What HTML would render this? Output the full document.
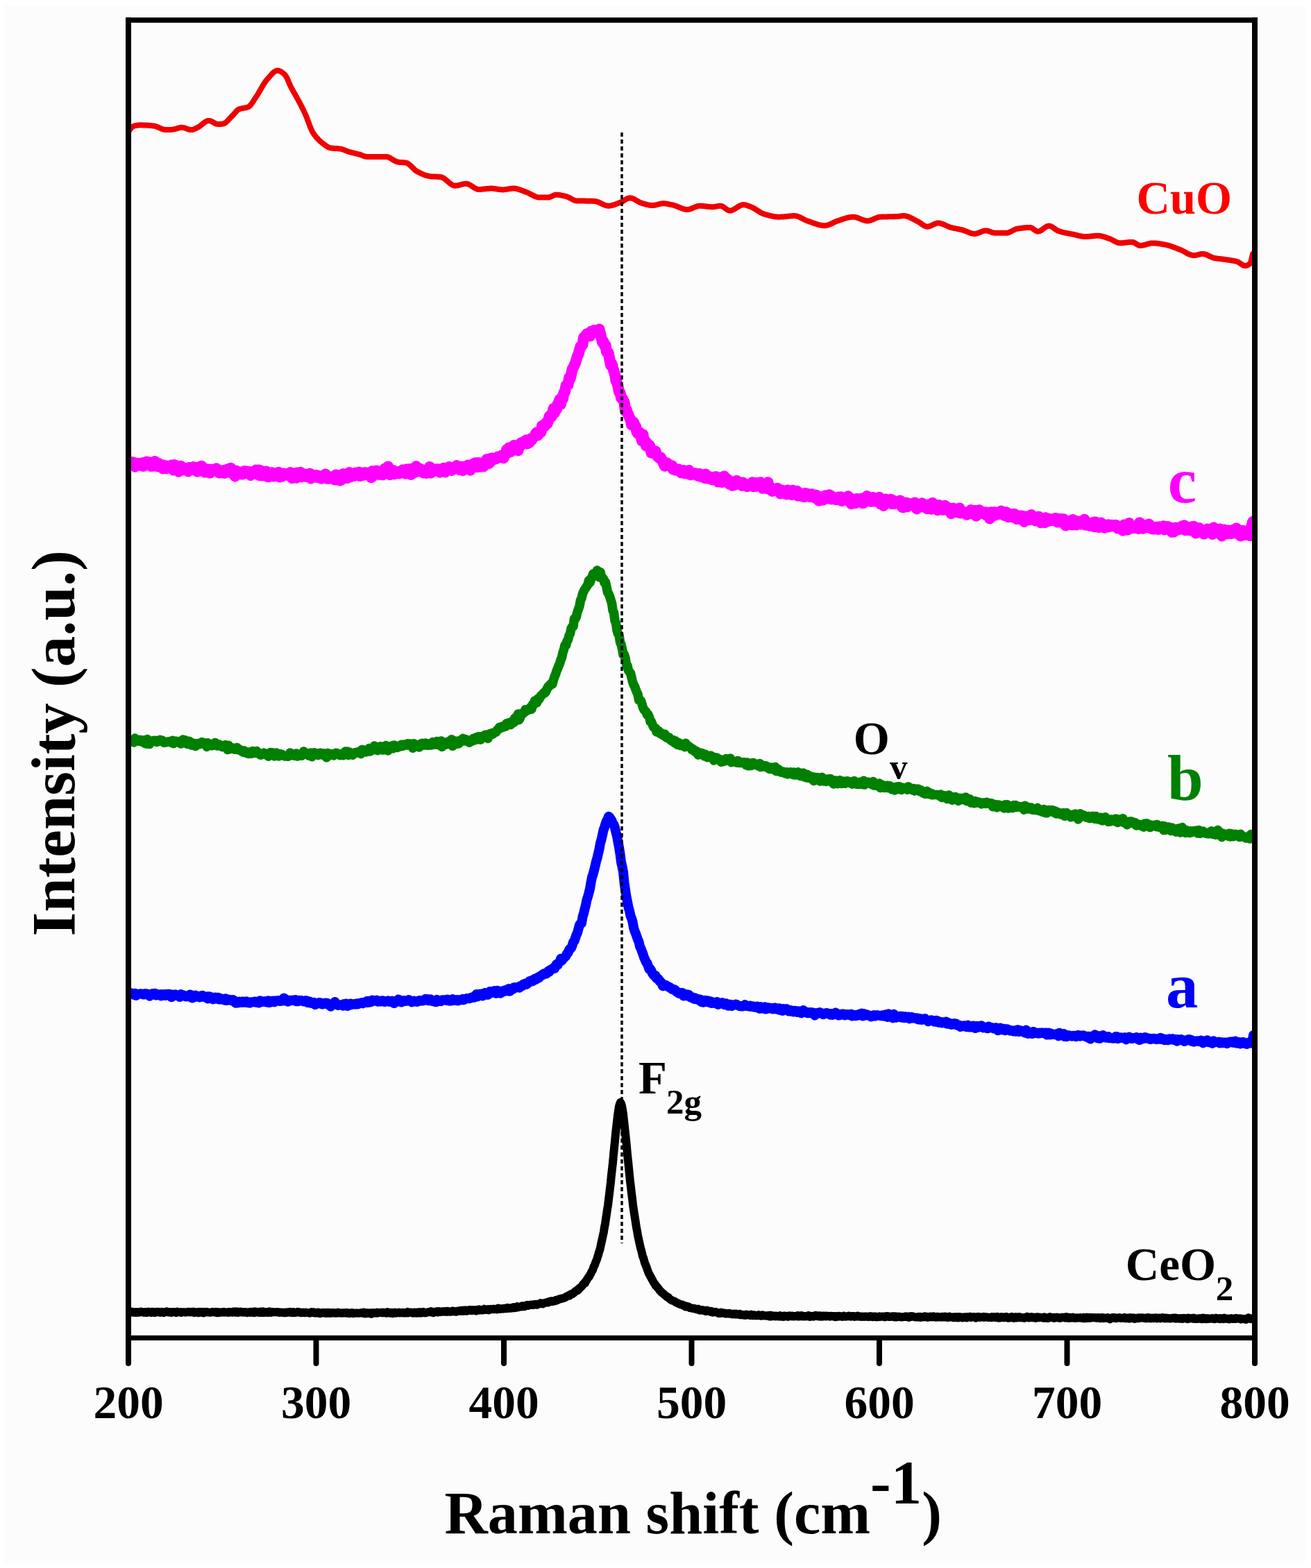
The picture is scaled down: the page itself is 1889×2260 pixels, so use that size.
<!DOCTYPE html>
<html><head><meta charset="utf-8"><title>Raman spectra</title>
<style>html,body{margin:0;padding:0;background:#fff;} body{width:1889px;height:2260px;overflow:hidden;} svg{display:block;}</style>
</head><body>
<svg width="1889" height="2260" viewBox="0 0 1889 2260">
<rect x="0" y="0" width="1889" height="2260" fill="#ffffff"/>
<rect x="6" y="8" width="1875" height="2245" fill="#fcfcfc"/>
<defs><clipPath id="pa"><rect x="186" y="30" width="1620" height="1895"/></clipPath></defs>
<g clip-path="url(#pa)">
<path d="M184.0 191.9L185.0 190.2L186.0 188.5L187.0 187.0L188.0 185.6L189.0 184.4L190.0 183.5L191.0 182.8L192.0 182.1L193.0 181.6L194.0 181.3L195.0 181.1L196.0 180.9L197.0 180.8L198.0 180.6L199.0 180.5L200.0 180.4L201.0 180.3L202.0 180.3L203.0 180.3L204.0 180.3L205.0 180.3L206.0 180.3L207.0 180.4L208.0 180.4L209.0 180.5L210.0 180.5L211.0 180.6L212.0 180.6L213.0 180.7L214.0 180.8L215.0 180.8L216.0 180.9L217.0 181.0L218.0 181.1L219.0 181.2L220.0 181.3L221.0 181.4L222.0 181.5L223.0 181.7L224.0 182.0L225.0 182.3L226.0 182.7L227.0 183.1L228.0 183.5L229.0 184.0L230.0 184.4L231.0 184.9L232.0 185.3L233.0 185.7L234.0 186.1L235.0 186.4L236.0 186.7L237.0 186.9L238.0 187.0L239.0 187.1L240.0 187.1L241.0 187.1L242.0 187.1L243.0 187.0L244.0 187.0L245.0 186.9L246.0 186.9L247.0 186.8L248.0 186.7L249.0 186.6L250.0 186.5L251.0 186.3L252.0 186.0L253.0 185.8L254.0 185.5L255.0 185.1L256.0 184.8L257.0 184.5L258.0 184.3L259.0 184.0L260.0 183.9L261.0 183.7L262.0 183.7L263.0 183.8L264.0 183.9L265.0 184.1L266.0 184.4L267.0 184.7L268.0 185.1L269.0 185.5L270.0 185.8L271.0 186.2L272.0 186.5L273.0 186.8L274.0 187.0L275.0 187.1L276.0 187.1L277.0 187.0L278.0 186.8L279.0 186.4L280.0 186.0L281.0 185.6L282.0 185.1L283.0 184.6L284.0 184.1L285.0 183.6L286.0 183.1L287.0 182.5L288.0 181.8L289.0 181.0L290.0 180.2L291.0 179.4L292.0 178.5L293.0 177.7L294.0 177.0L295.0 176.2L296.0 175.6L297.0 175.0L298.0 174.5L299.0 174.2L300.0 174.0L301.0 173.9L302.0 174.0L303.0 174.3L304.0 174.6L305.0 175.1L306.0 175.6L307.0 176.1L308.0 176.7L309.0 177.3L310.0 177.8L311.0 178.3L312.0 178.6L313.0 178.9L314.0 179.1L315.0 179.1L316.0 179.1L317.0 179.0L318.0 178.9L319.0 178.8L320.0 178.7L321.0 178.5L322.0 178.3L323.0 178.0L324.0 177.4L325.0 176.8L326.0 176.0L327.0 175.0L328.0 174.1L329.0 173.0L330.0 171.9L331.0 170.8L332.0 169.7L333.0 168.6L334.0 167.6L335.0 166.6L336.0 165.6L337.0 164.5L338.0 163.3L339.0 162.1L340.0 160.9L341.0 159.9L342.0 158.9L343.0 158.1L344.0 157.5L345.0 157.2L346.0 156.8L347.0 156.6L348.0 156.3L349.0 156.1L350.0 156.0L351.0 155.8L352.0 155.6L353.0 155.5L354.0 155.3L355.0 155.0L356.0 154.8L357.0 154.4L358.0 154.0L359.0 153.4L360.0 152.5L361.0 151.5L362.0 150.2L363.0 148.8L364.0 147.4L365.0 145.8L366.0 144.2L367.0 142.6L368.0 141.1L369.0 139.6L370.0 138.1L371.0 136.6L372.0 135.0L373.0 133.3L374.0 131.6L375.0 129.9L376.0 128.1L377.0 126.4L378.0 124.6L379.0 122.9L380.0 121.3L381.0 119.7L382.0 118.2L383.0 116.8L384.0 115.5L385.0 114.3L386.0 113.2L387.0 112.1L388.0 110.9L389.0 109.7L390.0 108.6L391.0 107.5L392.0 106.4L393.0 105.4L394.0 104.5L395.0 103.7L396.0 103.0L397.0 102.5L398.0 102.0L399.0 101.8L400.0 101.7L401.0 101.8L402.0 102.0L403.0 102.4L404.0 102.8L405.0 103.4L406.0 104.0L407.0 104.8L408.0 105.5L409.0 106.4L410.0 107.2L411.0 108.3L412.0 109.7L413.0 111.6L414.0 113.6L415.0 115.9L416.0 118.3L417.0 120.6L418.0 122.9L419.0 125.0L420.0 126.9L421.0 128.8L422.0 130.6L423.0 132.3L424.0 134.1L425.0 135.8L426.0 137.6L427.0 139.4L428.0 141.1L429.0 142.9L430.0 144.8L431.0 146.7L432.0 148.6L433.0 150.5L434.0 152.4L435.0 154.4L436.0 156.4L437.0 158.4L438.0 160.5L439.0 162.6L440.0 164.7L441.0 167.1L442.0 169.6L443.0 172.2L444.0 174.9L445.0 177.6L446.0 180.3L447.0 182.9L448.0 185.3L449.0 187.6L450.0 189.7L451.0 191.4L452.0 192.9L453.0 194.3L454.0 195.6L455.0 196.9L456.0 198.1L457.0 199.2L458.0 200.3L459.0 201.4L460.0 202.3L461.0 203.3L462.0 204.1L463.0 205.0L464.0 205.8L465.0 206.6L466.0 207.3L467.0 208.1L468.0 208.9L469.0 209.6L470.0 210.4L471.0 211.0L472.0 211.6L473.0 212.2L474.0 212.6L475.0 213.0L476.0 213.2L477.0 213.4L478.0 213.5L479.0 213.6L480.0 213.7L481.0 213.8L482.0 213.9L483.0 213.9L484.0 214.0L485.0 214.0L486.0 214.1L487.0 214.2L488.0 214.3L489.0 214.4L490.0 214.5L491.0 214.7L492.0 214.9L493.0 215.2L494.0 215.5L495.0 215.8L496.0 216.2L497.0 216.6L498.0 217.0L499.0 217.4L500.0 217.8L501.0 218.1L502.0 218.5L503.0 218.8L504.0 219.1L505.0 219.4L506.0 219.6L507.0 219.9L508.0 220.1L509.0 220.4L510.0 220.6L511.0 220.8L512.0 221.1L513.0 221.3L514.0 221.6L515.0 221.8L516.0 222.1L517.0 222.3L518.0 222.6L519.0 222.9L520.0 223.3L521.0 223.7L522.0 224.1L523.0 224.5L524.0 224.9L525.0 225.3L526.0 225.5L527.0 225.7L528.0 225.9L529.0 225.9L530.0 225.9L531.0 225.9L532.0 225.9L533.0 225.9L534.0 225.9L535.0 225.9L536.0 225.9L537.0 225.9L538.0 225.9L539.0 225.9L540.0 225.9L541.0 225.9L542.0 225.9L543.0 225.9L544.0 225.9L545.0 225.9L546.0 225.9L547.0 225.9L548.0 225.9L549.0 225.9L550.0 225.9L551.0 225.9L552.0 225.9L553.0 225.9L554.0 225.9L555.0 225.9L556.0 225.9L557.0 226.0L558.0 226.1L559.0 226.4L560.0 226.8L561.0 227.2L562.0 227.7L563.0 228.3L564.0 228.9L565.0 229.5L566.0 230.1L567.0 230.7L568.0 231.3L569.0 231.9L570.0 232.4L571.0 232.8L572.0 233.2L573.0 233.5L574.0 233.6L575.0 233.8L576.0 233.9L577.0 234.0L578.0 234.0L579.0 234.1L580.0 234.2L581.0 234.2L582.0 234.3L583.0 234.4L584.0 234.5L585.0 234.7L586.0 234.9L587.0 235.3L588.0 235.9L589.0 236.6L590.0 237.4L591.0 238.3L592.0 239.2L593.0 240.2L594.0 241.2L595.0 242.2L596.0 243.2L597.0 244.2L598.0 245.1L599.0 245.9L600.0 246.6L601.0 247.2L602.0 247.7L603.0 248.2L604.0 248.7L605.0 249.2L606.0 249.7L607.0 250.2L608.0 250.6L609.0 251.1L610.0 251.5L611.0 251.9L612.0 252.3L613.0 252.6L614.0 253.0L615.0 253.2L616.0 253.5L617.0 253.7L618.0 253.9L619.0 254.1L620.0 254.2L621.0 254.3L622.0 254.4L623.0 254.4L624.0 254.5L625.0 254.5L626.0 254.6L627.0 254.6L628.0 254.7L629.0 254.7L630.0 254.8L631.0 254.8L632.0 254.9L633.0 255.0L634.0 255.1L635.0 255.2L636.0 255.3L637.0 255.7L638.0 256.1L639.0 256.6L640.0 257.3L641.0 258.0L642.0 258.8L643.0 259.6L644.0 260.5L645.0 261.4L646.0 262.2L647.0 263.1L648.0 264.0L649.0 264.7L650.0 265.5L651.0 266.1L652.0 266.7L653.0 267.1L654.0 267.5L655.0 267.7L656.0 267.7L657.0 267.6L658.0 267.5L659.0 267.4L660.0 267.2L661.0 267.0L662.0 266.7L663.0 266.4L664.0 266.2L665.0 265.9L666.0 265.6L667.0 265.4L668.0 265.2L669.0 265.0L670.0 264.9L671.0 264.8L672.0 264.8L673.0 264.9L674.0 265.2L675.0 265.5L676.0 266.0L677.0 266.5L678.0 267.1L679.0 267.7L680.0 268.4L681.0 269.0L682.0 269.7L683.0 270.4L684.0 271.0L685.0 271.5L686.0 272.0L687.0 272.4L688.0 272.8L689.0 272.9L690.0 273.0L691.0 273.0L692.0 272.9L693.0 272.9L694.0 272.8L695.0 272.7L696.0 272.6L697.0 272.5L698.0 272.4L699.0 272.3L700.0 272.2L701.0 272.1L702.0 272.0L703.0 271.9L704.0 271.8L705.0 271.7L706.0 271.7L707.0 271.6L708.0 271.6L709.0 271.6L710.0 271.7L711.0 271.8L712.0 271.9L713.0 272.0L714.0 272.2L715.0 272.3L716.0 272.5L717.0 272.7L718.0 272.8L719.0 273.0L720.0 273.1L721.0 273.2L722.0 273.3L723.0 273.4L724.0 273.4L725.0 273.4L726.0 273.3L727.0 273.2L728.0 273.1L729.0 273.0L730.0 272.8L731.0 272.7L732.0 272.5L733.0 272.3L734.0 272.2L735.0 272.0L736.0 271.9L737.0 271.8L738.0 271.7L739.0 271.6L740.0 271.6L741.0 271.6L742.0 271.7L743.0 271.8L744.0 272.0L745.0 272.2L746.0 272.5L747.0 272.8L748.0 273.1L749.0 273.4L750.0 273.8L751.0 274.1L752.0 274.5L753.0 274.9L754.0 275.3L755.0 275.7L756.0 276.1L757.0 276.4L758.0 276.8L759.0 277.2L760.0 277.6L761.0 278.0L762.0 278.5L763.0 279.0L764.0 279.6L765.0 280.1L766.0 280.7L767.0 281.2L768.0 281.7L769.0 282.2L770.0 282.7L771.0 283.2L772.0 283.5L773.0 283.9L774.0 284.1L775.0 284.3L776.0 284.4L777.0 284.4L778.0 284.4L779.0 284.4L780.0 284.4L781.0 284.4L782.0 284.4L783.0 284.4L784.0 284.4L785.0 284.4L786.0 284.4L787.0 284.4L788.0 284.4L789.0 284.4L790.0 284.4L791.0 284.3L792.0 284.2L793.0 283.8L794.0 283.4L795.0 283.0L796.0 282.5L797.0 282.0L798.0 281.6L799.0 281.2L800.0 280.9L801.0 280.7L802.0 280.7L803.0 280.7L804.0 280.8L805.0 280.9L806.0 281.0L807.0 281.2L808.0 281.4L809.0 281.6L810.0 281.8L811.0 282.0L812.0 282.2L813.0 282.5L814.0 282.7L815.0 282.9L816.0 283.2L817.0 283.5L818.0 283.9L819.0 284.4L820.0 284.9L821.0 285.4L822.0 285.9L823.0 286.5L824.0 287.0L825.0 287.5L826.0 288.0L827.0 288.4L828.0 288.8L829.0 289.1L830.0 289.3L831.0 289.4L832.0 289.4L833.0 289.5L834.0 289.5L835.0 289.5L836.0 289.5L837.0 289.6L838.0 289.6L839.0 289.6L840.0 289.6L841.0 289.6L842.0 289.6L843.0 289.6L844.0 289.7L845.0 289.7L846.0 289.7L847.0 289.7L848.0 289.7L849.0 289.7L850.0 289.7L851.0 289.8L852.0 289.8L853.0 289.8L854.0 289.8L855.0 289.9L856.0 289.9L857.0 289.9L858.0 290.1L859.0 290.3L860.0 290.6L861.0 290.9L862.0 291.3L863.0 291.7L864.0 292.2L865.0 292.6L866.0 293.1L867.0 293.6L868.0 294.1L869.0 294.6L870.0 295.0L871.0 295.4L872.0 295.8L873.0 296.1L874.0 296.4L875.0 296.6L876.0 296.7L877.0 296.7L878.0 296.7L879.0 296.6L880.0 296.4L881.0 296.2L882.0 296.0L883.0 295.7L884.0 295.4L885.0 295.1L886.0 294.8L887.0 294.4L888.0 294.0L889.0 293.6L890.0 293.2L891.0 292.8L892.0 292.4L893.0 292.0L894.0 291.6L895.0 291.2L896.0 290.8L897.0 290.3L898.0 289.7L899.0 289.1L900.0 288.5L901.0 287.8L902.0 287.2L903.0 286.7L904.0 286.2L905.0 285.8L906.0 285.5L907.0 285.3L908.0 285.3L909.0 285.4L910.0 285.6L911.0 285.9L912.0 286.3L913.0 286.7L914.0 287.2L915.0 287.8L916.0 288.4L917.0 289.0L918.0 289.6L919.0 290.1L920.0 290.7L921.0 291.3L922.0 291.8L923.0 292.2L924.0 292.6L925.0 292.9L926.0 293.2L927.0 293.5L928.0 293.8L929.0 294.0L930.0 294.3L931.0 294.6L932.0 294.9L933.0 295.1L934.0 295.3L935.0 295.5L936.0 295.7L937.0 295.8L938.0 295.9L939.0 296.0L940.0 296.0L941.0 296.0L942.0 295.9L943.0 295.8L944.0 295.6L945.0 295.4L946.0 295.1L947.0 294.9L948.0 294.7L949.0 294.4L950.0 294.2L951.0 293.9L952.0 293.7L953.0 293.5L954.0 293.4L955.0 293.3L956.0 293.3L957.0 293.3L958.0 293.4L959.0 293.5L960.0 293.6L961.0 293.8L962.0 293.9L963.0 294.1L964.0 294.3L965.0 294.6L966.0 294.8L967.0 295.0L968.0 295.2L969.0 295.5L970.0 295.7L971.0 295.9L972.0 296.2L973.0 296.6L974.0 296.9L975.0 297.3L976.0 297.7L977.0 298.1L978.0 298.6L979.0 299.0L980.0 299.4L981.0 299.8L982.0 300.2L983.0 300.6L984.0 300.9L985.0 301.2L986.0 301.5L987.0 301.7L988.0 301.9L989.0 302.0L990.0 302.0L991.0 302.0L992.0 301.8L993.0 301.6L994.0 301.4L995.0 301.1L996.0 300.7L997.0 300.3L998.0 299.9L999.0 299.5L1000.0 299.0L1001.0 298.6L1002.0 298.2L1003.0 297.8L1004.0 297.5L1005.0 297.2L1006.0 296.9L1007.0 296.8L1008.0 296.7L1009.0 296.7L1010.0 296.7L1011.0 296.8L1012.0 296.9L1013.0 297.0L1014.0 297.1L1015.0 297.2L1016.0 297.3L1017.0 297.4L1018.0 297.6L1019.0 297.7L1020.0 297.8L1021.0 297.9L1022.0 298.0L1023.0 298.1L1024.0 298.2L1025.0 298.3L1026.0 298.3L1027.0 298.3L1028.0 298.2L1029.0 298.1L1030.0 298.0L1031.0 297.8L1032.0 297.6L1033.0 297.4L1034.0 297.2L1035.0 297.0L1036.0 296.8L1037.0 296.7L1038.0 296.7L1039.0 296.8L1040.0 297.1L1041.0 297.5L1042.0 298.1L1043.0 298.8L1044.0 299.5L1045.0 300.3L1046.0 301.0L1047.0 301.7L1048.0 302.4L1049.0 302.9L1050.0 303.3L1051.0 303.5L1052.0 303.6L1053.0 303.5L1054.0 303.3L1055.0 302.9L1056.0 302.5L1057.0 302.0L1058.0 301.5L1059.0 300.9L1060.0 300.3L1061.0 299.6L1062.0 299.0L1063.0 298.3L1064.0 297.7L1065.0 297.1L1066.0 296.6L1067.0 296.1L1068.0 295.7L1069.0 295.4L1070.0 295.2L1071.0 295.1L1072.0 295.1L1073.0 295.3L1074.0 295.4L1075.0 295.7L1076.0 296.0L1077.0 296.3L1078.0 296.7L1079.0 297.1L1080.0 297.4L1081.0 297.8L1082.0 298.2L1083.0 298.6L1084.0 299.0L1085.0 299.6L1086.0 300.1L1087.0 300.7L1088.0 301.3L1089.0 301.9L1090.0 302.5L1091.0 303.2L1092.0 303.8L1093.0 304.4L1094.0 305.1L1095.0 305.7L1096.0 306.3L1097.0 306.8L1098.0 307.3L1099.0 307.8L1100.0 308.2L1101.0 308.6L1102.0 308.9L1103.0 309.1L1104.0 309.4L1105.0 309.7L1106.0 310.0L1107.0 310.2L1108.0 310.5L1109.0 310.8L1110.0 311.0L1111.0 311.2L1112.0 311.5L1113.0 311.7L1114.0 311.9L1115.0 312.0L1116.0 312.2L1117.0 312.3L1118.0 312.5L1119.0 312.6L1120.0 312.6L1121.0 312.7L1122.0 312.7L1123.0 312.7L1124.0 312.7L1125.0 312.6L1126.0 312.6L1127.0 312.5L1128.0 312.4L1129.0 312.4L1130.0 312.3L1131.0 312.2L1132.0 312.1L1133.0 312.0L1134.0 311.9L1135.0 311.8L1136.0 311.7L1137.0 311.6L1138.0 311.5L1139.0 311.4L1140.0 311.3L1141.0 311.2L1142.0 311.2L1143.0 311.1L1144.0 311.1L1145.0 311.1L1146.0 311.1L1147.0 311.3L1148.0 311.5L1149.0 311.7L1150.0 312.1L1151.0 312.5L1152.0 312.9L1153.0 313.4L1154.0 313.9L1155.0 314.4L1156.0 314.9L1157.0 315.5L1158.0 316.0L1159.0 316.5L1160.0 317.0L1161.0 317.5L1162.0 317.9L1163.0 318.3L1164.0 318.6L1165.0 318.9L1166.0 319.3L1167.0 319.6L1168.0 320.0L1169.0 320.4L1170.0 320.7L1171.0 321.1L1172.0 321.5L1173.0 321.8L1174.0 322.2L1175.0 322.5L1176.0 322.9L1177.0 323.2L1178.0 323.5L1179.0 323.8L1180.0 324.0L1181.0 324.3L1182.0 324.5L1183.0 324.7L1184.0 324.9L1185.0 325.0L1186.0 325.1L1187.0 325.2L1188.0 325.2L1189.0 325.2L1190.0 325.1L1191.0 324.9L1192.0 324.7L1193.0 324.4L1194.0 324.0L1195.0 323.6L1196.0 323.2L1197.0 322.8L1198.0 322.3L1199.0 321.8L1200.0 321.3L1201.0 320.8L1202.0 320.3L1203.0 319.8L1204.0 319.4L1205.0 319.0L1206.0 318.6L1207.0 318.3L1208.0 318.0L1209.0 317.7L1210.0 317.3L1211.0 317.0L1212.0 316.7L1213.0 316.3L1214.0 316.0L1215.0 315.7L1216.0 315.3L1217.0 315.0L1218.0 314.7L1219.0 314.4L1220.0 314.1L1221.0 313.9L1222.0 313.6L1223.0 313.4L1224.0 313.2L1225.0 313.1L1226.0 312.9L1227.0 312.8L1228.0 312.7L1229.0 312.7L1230.0 312.7L1231.0 312.8L1232.0 312.9L1233.0 313.1L1234.0 313.4L1235.0 313.7L1236.0 314.1L1237.0 314.4L1238.0 314.8L1239.0 315.2L1240.0 315.7L1241.0 316.1L1242.0 316.5L1243.0 316.9L1244.0 317.2L1245.0 317.5L1246.0 317.8L1247.0 318.1L1248.0 318.2L1249.0 318.4L1250.0 318.4L1251.0 318.4L1252.0 318.2L1253.0 318.0L1254.0 317.7L1255.0 317.4L1256.0 317.0L1257.0 316.6L1258.0 316.2L1259.0 315.7L1260.0 315.3L1261.0 314.8L1262.0 314.4L1263.0 314.0L1264.0 313.6L1265.0 313.3L1266.0 313.0L1267.0 312.8L1268.0 312.7L1269.0 312.7L1270.0 312.6L1271.0 312.6L1272.0 312.5L1273.0 312.5L1274.0 312.5L1275.0 312.4L1276.0 312.4L1277.0 312.4L1278.0 312.4L1279.0 312.4L1280.0 312.3L1281.0 312.3L1282.0 312.3L1283.0 312.3L1284.0 312.3L1285.0 312.3L1286.0 312.2L1287.0 312.2L1288.0 312.2L1289.0 312.2L1290.0 312.1L1291.0 312.1L1292.0 312.1L1293.0 312.0L1294.0 312.0L1295.0 311.9L1296.0 311.7L1297.0 311.6L1298.0 311.5L1299.0 311.3L1300.0 311.2L1301.0 311.1L1302.0 311.1L1303.0 311.1L1304.0 311.2L1305.0 311.3L1306.0 311.5L1307.0 311.8L1308.0 312.1L1309.0 312.5L1310.0 312.9L1311.0 313.3L1312.0 313.8L1313.0 314.3L1314.0 314.8L1315.0 315.3L1316.0 315.8L1317.0 316.4L1318.0 316.9L1319.0 317.5L1320.0 318.0L1321.0 318.6L1322.0 319.1L1323.0 319.5L1324.0 320.1L1325.0 320.7L1326.0 321.4L1327.0 322.1L1328.0 322.8L1329.0 323.6L1330.0 324.3L1331.0 324.9L1332.0 325.5L1333.0 326.0L1334.0 326.4L1335.0 326.6L1336.0 326.7L1337.0 326.6L1338.0 326.5L1339.0 326.2L1340.0 325.9L1341.0 325.5L1342.0 325.0L1343.0 324.6L1344.0 324.1L1345.0 323.6L1346.0 323.1L1347.0 322.7L1348.0 322.3L1349.0 322.0L1350.0 321.7L1351.0 321.5L1352.0 321.5L1353.0 321.6L1354.0 321.7L1355.0 321.9L1356.0 322.1L1357.0 322.5L1358.0 322.8L1359.0 323.2L1360.0 323.6L1361.0 324.1L1362.0 324.6L1363.0 325.0L1364.0 325.5L1365.0 326.0L1366.0 326.4L1367.0 326.8L1368.0 327.2L1369.0 327.6L1370.0 327.9L1371.0 328.1L1372.0 328.4L1373.0 328.6L1374.0 328.8L1375.0 329.0L1376.0 329.2L1377.0 329.4L1378.0 329.6L1379.0 329.8L1380.0 330.0L1381.0 330.2L1382.0 330.4L1383.0 330.6L1384.0 330.8L1385.0 331.0L1386.0 331.3L1387.0 331.5L1388.0 331.9L1389.0 332.2L1390.0 332.6L1391.0 333.0L1392.0 333.4L1393.0 333.8L1394.0 334.2L1395.0 334.6L1396.0 335.0L1397.0 335.4L1398.0 335.8L1399.0 336.1L1400.0 336.4L1401.0 336.6L1402.0 336.8L1403.0 336.9L1404.0 337.0L1405.0 337.0L1406.0 336.9L1407.0 336.7L1408.0 336.4L1409.0 336.0L1410.0 335.7L1411.0 335.3L1412.0 334.8L1413.0 334.4L1414.0 334.0L1415.0 333.6L1416.0 333.2L1417.0 332.9L1418.0 332.7L1419.0 332.5L1420.0 332.4L1421.0 332.4L1422.0 332.5L1423.0 332.7L1424.0 333.0L1425.0 333.3L1426.0 333.7L1427.0 334.0L1428.0 334.4L1429.0 334.8L1430.0 335.1L1431.0 335.4L1432.0 335.6L1433.0 335.7L1434.0 335.8L1435.0 335.8L1436.0 335.8L1437.0 335.8L1438.0 335.8L1439.0 335.8L1440.0 335.8L1441.0 335.8L1442.0 335.8L1443.0 335.8L1444.0 335.8L1445.0 335.8L1446.0 335.8L1447.0 335.8L1448.0 335.8L1449.0 335.8L1450.0 335.8L1451.0 335.7L1452.0 335.6L1453.0 335.3L1454.0 334.9L1455.0 334.5L1456.0 334.0L1457.0 333.5L1458.0 333.0L1459.0 332.5L1460.0 332.0L1461.0 331.4L1462.0 331.0L1463.0 330.5L1464.0 330.2L1465.0 329.9L1466.0 329.7L1467.0 329.5L1468.0 329.4L1469.0 329.2L1470.0 329.1L1471.0 328.9L1472.0 328.8L1473.0 328.7L1474.0 328.6L1475.0 328.4L1476.0 328.3L1477.0 328.2L1478.0 328.2L1479.0 328.1L1480.0 328.0L1481.0 328.0L1482.0 327.9L1483.0 327.9L1484.0 327.9L1485.0 328.0L1486.0 328.3L1487.0 328.8L1488.0 329.4L1489.0 330.2L1490.0 330.9L1491.0 331.6L1492.0 332.3L1493.0 332.9L1494.0 333.3L1495.0 333.6L1496.0 333.6L1497.0 333.4L1498.0 333.1L1499.0 332.6L1500.0 332.1L1501.0 331.4L1502.0 330.7L1503.0 330.0L1504.0 329.2L1505.0 328.5L1506.0 327.8L1507.0 327.1L1508.0 326.6L1509.0 326.1L1510.0 325.8L1511.0 325.6L1512.0 325.6L1513.0 325.8L1514.0 326.1L1515.0 326.6L1516.0 327.1L1517.0 327.8L1518.0 328.5L1519.0 329.2L1520.0 329.9L1521.0 330.6L1522.0 331.3L1523.0 331.9L1524.0 332.5L1525.0 332.9L1526.0 333.2L1527.0 333.5L1528.0 333.8L1529.0 334.1L1530.0 334.3L1531.0 334.6L1532.0 334.9L1533.0 335.1L1534.0 335.3L1535.0 335.5L1536.0 335.8L1537.0 336.0L1538.0 336.2L1539.0 336.4L1540.0 336.6L1541.0 336.8L1542.0 336.9L1543.0 337.1L1544.0 337.3L1545.0 337.5L1546.0 337.7L1547.0 337.9L1548.0 338.1L1549.0 338.3L1550.0 338.6L1551.0 338.8L1552.0 339.1L1553.0 339.3L1554.0 339.6L1555.0 339.8L1556.0 340.0L1557.0 340.3L1558.0 340.5L1559.0 340.6L1560.0 340.8L1561.0 340.9L1562.0 341.0L1563.0 341.1L1564.0 341.1L1565.0 341.1L1566.0 341.0L1567.0 341.0L1568.0 340.9L1569.0 340.8L1570.0 340.7L1571.0 340.6L1572.0 340.5L1573.0 340.4L1574.0 340.3L1575.0 340.2L1576.0 340.1L1577.0 340.0L1578.0 339.9L1579.0 339.8L1580.0 339.8L1581.0 339.7L1582.0 339.7L1583.0 339.7L1584.0 339.8L1585.0 339.9L1586.0 340.1L1587.0 340.3L1588.0 340.5L1589.0 340.8L1590.0 341.1L1591.0 341.4L1592.0 341.7L1593.0 342.1L1594.0 342.4L1595.0 342.8L1596.0 343.1L1597.0 343.4L1598.0 343.8L1599.0 344.1L1600.0 344.5L1601.0 345.0L1602.0 345.5L1603.0 346.0L1604.0 346.6L1605.0 347.1L1606.0 347.6L1607.0 348.2L1608.0 348.7L1609.0 349.1L1610.0 349.5L1611.0 349.8L1612.0 350.1L1613.0 350.2L1614.0 350.3L1615.0 350.3L1616.0 350.2L1617.0 350.2L1618.0 350.1L1619.0 350.0L1620.0 349.9L1621.0 349.8L1622.0 349.7L1623.0 349.5L1624.0 349.4L1625.0 349.3L1626.0 349.2L1627.0 349.1L1628.0 349.0L1629.0 349.0L1630.0 348.9L1631.0 348.9L1632.0 349.0L1633.0 349.2L1634.0 349.7L1635.0 350.2L1636.0 350.8L1637.0 351.4L1638.0 352.1L1639.0 352.7L1640.0 353.2L1641.0 353.6L1642.0 353.9L1643.0 354.0L1644.0 354.0L1645.0 353.9L1646.0 353.7L1647.0 353.5L1648.0 353.3L1649.0 353.0L1650.0 352.8L1651.0 352.5L1652.0 352.2L1653.0 351.9L1654.0 351.6L1655.0 351.3L1656.0 351.0L1657.0 350.8L1658.0 350.6L1659.0 350.5L1660.0 350.4L1661.0 350.4L1662.0 350.4L1663.0 350.5L1664.0 350.5L1665.0 350.6L1666.0 350.7L1667.0 350.8L1668.0 350.9L1669.0 351.0L1670.0 351.2L1671.0 351.3L1672.0 351.5L1673.0 351.6L1674.0 351.8L1675.0 352.0L1676.0 352.2L1677.0 352.3L1678.0 352.5L1679.0 352.7L1680.0 352.9L1681.0 353.1L1682.0 353.4L1683.0 353.6L1684.0 353.9L1685.0 354.2L1686.0 354.5L1687.0 354.8L1688.0 355.2L1689.0 355.5L1690.0 355.9L1691.0 356.3L1692.0 356.7L1693.0 357.0L1694.0 357.4L1695.0 357.8L1696.0 358.2L1697.0 358.6L1698.0 359.0L1699.0 359.4L1700.0 359.7L1701.0 360.1L1702.0 360.5L1703.0 361.0L1704.0 361.5L1705.0 362.0L1706.0 362.5L1707.0 363.1L1708.0 363.7L1709.0 364.2L1710.0 364.8L1711.0 365.3L1712.0 365.8L1713.0 366.3L1714.0 366.7L1715.0 367.1L1716.0 367.4L1717.0 367.7L1718.0 367.9L1719.0 368.1L1720.0 368.1L1721.0 368.1L1722.0 368.0L1723.0 367.8L1724.0 367.6L1725.0 367.4L1726.0 367.2L1727.0 366.9L1728.0 366.7L1729.0 366.4L1730.0 366.2L1731.0 366.1L1732.0 366.0L1733.0 365.9L1734.0 365.9L1735.0 366.1L1736.0 366.3L1737.0 366.6L1738.0 366.9L1739.0 367.3L1740.0 367.8L1741.0 368.3L1742.0 368.8L1743.0 369.3L1744.0 369.8L1745.0 370.3L1746.0 370.7L1747.0 371.1L1748.0 371.5L1749.0 371.8L1750.0 372.0L1751.0 372.2L1752.0 372.3L1753.0 372.5L1754.0 372.6L1755.0 372.8L1756.0 372.9L1757.0 373.0L1758.0 373.1L1759.0 373.2L1760.0 373.3L1761.0 373.5L1762.0 373.6L1763.0 373.7L1764.0 373.8L1765.0 374.0L1766.0 374.1L1767.0 374.3L1768.0 374.4L1769.0 374.6L1770.0 374.7L1771.0 374.8L1772.0 375.0L1773.0 375.1L1774.0 375.3L1775.0 375.5L1776.0 375.6L1777.0 375.8L1778.0 376.0L1779.0 376.2L1780.0 376.5L1781.0 376.7L1782.0 376.9L1783.0 377.3L1784.0 377.7L1785.0 378.3L1786.0 378.9L1787.0 379.6L1788.0 380.3L1789.0 381.0L1790.0 381.6L1791.0 382.2L1792.0 382.6L1793.0 382.9L1794.0 383.0L1795.0 382.9L1796.0 382.8L1797.0 382.4L1798.0 382.0L1799.0 381.4L1800.0 380.8L1801.0 380.0L1802.0 378.2L1803.0 374.9L1804.0 370.6L1805.0 366.0" fill="none" stroke="#f00000" stroke-width="8" stroke-linejoin="round" stroke-linecap="round"/>
<path d="M184.0 668.2L185.5 669.1L187.0 667.7L188.5 666.2L190.0 667.5L191.5 666.2L193.0 669.1L194.5 672.6L196.0 667.9L197.5 667.7L199.0 670.8L200.5 670.5L202.0 670.0L203.5 667.5L205.0 669.9L206.5 671.9L208.0 666.8L209.5 669.2L211.0 665.6L212.5 667.3L214.0 666.0L215.5 670.3L217.0 667.8L218.5 671.9L220.0 671.7L221.5 671.0L223.0 665.0L224.5 670.3L226.0 671.7L227.5 672.3L229.0 668.1L230.5 671.0L232.0 669.8L233.5 670.4L235.0 675.4L236.5 670.7L238.0 672.8L239.5 675.3L241.0 671.7L242.5 673.0L244.0 673.7L245.5 673.7L247.0 670.5L248.5 674.0L250.0 677.5L251.5 670.1L253.0 676.5L254.5 674.7L256.0 672.8L257.5 679.8L259.0 676.7L260.5 671.7L262.0 675.2L263.5 676.6L265.0 674.7L266.5 677.1L268.0 675.3L269.5 677.3L271.0 679.4L272.5 674.0L274.0 676.4L275.5 674.8L277.0 676.4L278.5 673.1L280.0 674.8L281.5 675.9L283.0 678.8L284.5 679.6L286.0 673.2L287.5 674.7L289.0 678.5L290.5 671.8L292.0 675.8L293.5 676.9L295.0 680.5L296.5 679.1L298.0 676.5L299.5 676.5L301.0 676.9L302.5 681.6L304.0 676.6L305.5 677.1L307.0 678.9L308.5 677.7L310.0 677.6L311.5 675.3L313.0 678.3L314.5 677.3L316.0 681.6L317.5 680.3L319.0 678.7L320.5 680.6L322.0 678.1L323.5 681.9L325.0 679.3L326.5 680.9L328.0 676.2L329.5 680.6L331.0 675.4L332.5 674.7L334.0 679.3L335.5 677.9L337.0 680.8L338.5 686.4L340.0 678.5L341.5 679.2L343.0 681.5L344.5 682.4L346.0 680.8L347.5 680.9L349.0 683.4L350.5 683.0L352.0 679.1L353.5 681.7L355.0 682.1L356.5 679.4L358.0 682.9L359.5 680.1L361.0 685.0L362.5 683.0L364.0 682.8L365.5 681.1L367.0 682.4L368.5 677.6L370.0 679.9L371.5 683.9L373.0 677.5L374.5 685.3L376.0 678.6L377.5 685.2L379.0 681.1L380.5 685.3L382.0 683.7L383.5 679.4L385.0 686.7L386.5 687.3L388.0 683.4L389.5 682.9L391.0 683.3L392.5 681.2L394.0 686.6L395.5 682.4L397.0 683.8L398.5 681.9L400.0 682.4L401.5 680.7L403.0 687.4L404.5 683.8L406.0 686.7L407.5 684.3L409.0 682.5L410.5 683.6L412.0 683.0L413.5 684.5L415.0 683.6L416.5 683.9L418.0 681.1L419.5 682.7L421.0 689.1L422.5 683.2L424.0 682.2L425.5 685.9L427.0 688.7L428.5 681.4L430.0 684.7L431.5 683.6L433.0 680.8L434.5 687.3L436.0 685.4L437.5 685.7L439.0 683.6L440.5 686.8L442.0 684.3L443.5 685.4L445.0 683.0L446.5 682.7L448.0 689.4L449.5 684.7L451.0 686.9L452.5 686.1L454.0 685.1L455.5 685.0L457.0 688.0L458.5 685.7L460.0 686.1L461.5 686.7L463.0 689.8L464.5 688.6L466.0 687.9L467.5 685.5L469.0 683.5L470.5 689.6L472.0 689.7L473.5 686.9L475.0 688.8L476.5 689.5L478.0 689.7L479.5 689.9L481.0 686.4L482.5 691.6L484.0 684.4L485.5 689.9L487.0 689.0L488.5 690.0L490.0 692.6L491.5 691.5L493.0 684.6L494.5 683.1L496.0 689.5L497.5 684.6L499.0 687.0L500.5 689.1L502.0 682.5L503.5 681.1L505.0 687.1L506.5 686.3L508.0 685.4L509.5 685.9L511.0 683.4L512.5 681.5L514.0 684.8L515.5 682.5L517.0 680.6L518.5 686.0L520.0 684.3L521.5 685.4L523.0 681.6L524.5 682.3L526.0 681.3L527.5 681.4L529.0 684.1L530.5 681.4L532.0 684.2L533.5 684.0L535.0 688.2L536.5 679.1L538.0 684.9L539.5 682.2L541.0 682.2L542.5 678.4L544.0 680.8L545.5 683.8L547.0 681.5L548.5 681.8L550.0 680.7L551.5 684.3L553.0 681.1L554.5 675.4L556.0 679.2L557.5 675.8L559.0 672.4L560.5 679.4L562.0 684.1L563.5 680.7L565.0 677.5L566.5 678.0L568.0 683.3L569.5 680.7L571.0 680.4L572.5 680.1L574.0 680.3L575.5 682.2L577.0 681.5L578.5 680.5L580.0 677.2L581.5 681.2L583.0 678.0L584.5 682.6L586.0 676.4L587.5 679.3L589.0 679.5L590.5 676.0L592.0 683.9L593.5 683.1L595.0 678.1L596.5 681.2L598.0 680.1L599.5 672.2L601.0 679.6L602.5 678.6L604.0 678.9L605.5 675.8L607.0 677.8L608.5 677.9L610.0 681.4L611.5 679.1L613.0 678.1L614.5 681.9L616.0 676.4L617.5 676.7L619.0 672.9L620.5 681.6L622.0 679.9L623.5 679.7L625.0 679.0L626.5 677.4L628.0 677.6L629.5 676.3L631.0 676.3L632.5 676.9L634.0 680.6L635.5 678.0L637.0 676.3L638.5 674.9L640.0 674.7L641.5 680.4L643.0 677.5L644.5 676.3L646.0 675.1L647.5 673.0L649.0 675.7L650.5 678.0L652.0 674.6L653.5 675.0L655.0 674.9L656.5 675.6L658.0 671.1L659.5 674.5L661.0 672.7L662.5 677.1L664.0 672.6L665.5 676.0L667.0 678.2L668.5 673.2L670.0 672.2L671.5 674.0L673.0 673.3L674.5 670.4L676.0 673.9L677.5 677.6L679.0 671.3L680.5 671.1L682.0 668.6L683.5 671.8L685.0 667.3L686.5 667.3L688.0 673.1L689.5 667.1L691.0 671.8L692.5 672.6L694.0 668.8L695.5 669.1L697.0 672.2L698.5 666.0L700.0 664.4L701.5 661.9L703.0 664.9L704.5 668.1L706.0 666.2L707.5 660.7L709.0 660.4L710.5 660.7L712.0 662.2L713.5 660.4L715.0 660.9L716.5 660.5L718.0 658.3L719.5 658.3L721.0 658.3L722.5 656.8L724.0 657.5L725.5 660.2L727.0 656.0L728.5 653.7L730.0 648.2L731.5 652.6L733.0 645.6L734.5 646.0L736.0 651.0L737.5 649.8L739.0 646.7L740.5 641.9L742.0 644.6L743.5 643.1L745.0 645.8L746.5 649.3L748.0 643.3L749.5 640.0L751.0 638.2L752.5 640.3L754.0 639.2L755.5 635.9L757.0 638.4L758.5 634.3L760.0 639.4L761.5 638.4L763.0 637.6L764.5 632.6L766.0 634.3L767.5 631.6L769.0 629.8L770.5 628.8L772.0 624.9L773.5 623.1L775.0 627.4L776.5 623.1L778.0 622.5L779.5 622.7L781.0 613.8L782.5 614.4L784.0 614.9L785.5 613.4L787.0 609.2L788.5 610.7L790.0 606.3L791.5 600.3L793.0 598.7L794.5 600.8L796.0 597.5L797.5 588.9L799.0 594.9L800.5 590.4L802.0 589.7L803.5 582.7L805.0 580.4L806.5 575.7L808.0 582.7L809.5 573.0L811.0 574.8L812.5 566.0L814.0 564.7L815.5 556.1L817.0 555.4L818.5 554.7L820.0 544.5L821.5 546.2L823.0 540.0L824.5 532.4L826.0 529.9L827.5 526.2L829.0 523.4L830.5 518.2L832.0 513.4L833.5 510.6L835.0 504.4L836.5 499.4L838.0 498.6L839.5 496.7L841.0 486.3L842.5 487.0L844.0 483.4L845.5 481.2L847.0 484.7L848.5 480.1L850.0 484.5L851.5 477.8L853.0 480.2L854.5 478.0L856.0 476.0L857.5 479.1L859.0 476.9L860.5 478.7L862.0 476.9L863.5 474.5L865.0 481.0L866.5 486.9L868.0 493.4L869.5 492.2L871.0 498.1L872.5 497.3L874.0 507.4L875.5 507.2L877.0 509.9L878.5 519.1L880.0 526.7L881.5 524.2L883.0 529.7L884.5 535.2L886.0 539.1L887.5 548.7L889.0 551.4L890.5 556.9L892.0 565.1L893.5 566.1L895.0 573.5L896.5 573.9L898.0 577.2L899.5 579.3L901.0 592.5L902.5 590.3L904.0 595.2L905.5 597.9L907.0 601.7L908.5 604.6L910.0 612.4L911.5 607.6L913.0 608.9L914.5 612.9L916.0 614.6L917.5 622.4L919.0 624.9L920.5 622.6L922.0 623.7L923.5 628.6L925.0 635.4L926.5 626.5L928.0 637.3L929.5 635.1L931.0 642.6L932.5 639.0L934.0 642.9L935.5 641.5L937.0 644.6L938.5 652.5L940.0 652.7L941.5 651.1L943.0 651.4L944.5 650.3L946.0 655.6L947.5 658.0L949.0 659.2L950.5 660.5L952.0 659.2L953.5 663.2L955.0 664.5L956.5 669.1L958.0 671.8L959.5 667.7L961.0 667.2L962.5 670.0L964.0 669.6L965.5 670.2L967.0 673.0L968.5 671.4L970.0 676.6L971.5 675.7L973.0 677.5L974.5 677.2L976.0 676.5L977.5 676.6L979.0 679.1L980.5 678.9L982.0 681.4L983.5 681.2L985.0 678.1L986.5 682.2L988.0 678.8L989.5 681.1L991.0 682.2L992.5 677.9L994.0 683.8L995.5 684.2L997.0 683.7L998.5 683.2L1000.0 683.6L1001.5 682.3L1003.0 684.4L1004.5 683.9L1006.0 685.9L1007.5 682.8L1009.0 686.8L1010.5 686.9L1012.0 686.5L1013.5 686.0L1015.0 688.9L1016.5 683.4L1018.0 689.3L1019.5 689.0L1021.0 689.4L1022.5 690.0L1024.0 687.6L1025.5 688.9L1027.0 691.5L1028.5 691.3L1030.0 691.0L1031.5 686.9L1033.0 692.5L1034.5 694.4L1036.0 694.3L1037.5 692.6L1039.0 688.2L1040.5 695.0L1042.0 692.4L1043.5 686.5L1045.0 694.3L1046.5 689.7L1048.0 690.5L1049.5 692.5L1051.0 697.7L1052.5 693.7L1054.0 695.6L1055.5 699.7L1057.0 699.6L1058.5 695.4L1060.0 695.3L1061.5 692.9L1063.0 694.6L1064.5 697.8L1066.0 698.0L1067.5 697.5L1069.0 700.0L1070.5 695.6L1072.0 697.7L1073.5 700.0L1075.0 699.8L1076.5 701.3L1078.0 699.8L1079.5 698.2L1081.0 700.1L1082.5 696.8L1084.0 695.3L1085.5 701.3L1087.0 699.8L1088.5 701.0L1090.0 695.9L1091.5 699.6L1093.0 699.1L1094.5 698.6L1096.0 695.2L1097.5 700.4L1099.0 703.8L1100.5 702.6L1102.0 700.3L1103.5 702.0L1105.0 704.2L1106.5 695.3L1108.0 702.4L1109.5 704.4L1111.0 705.0L1112.5 707.9L1114.0 706.7L1115.5 704.9L1117.0 705.2L1118.5 706.8L1120.0 703.7L1121.5 705.4L1123.0 708.3L1124.5 711.4L1126.0 706.3L1127.5 707.0L1129.0 708.0L1130.5 711.4L1132.0 708.2L1133.5 712.5L1135.0 706.5L1136.5 708.9L1138.0 709.2L1139.5 712.1L1141.0 713.1L1142.5 706.8L1144.0 708.6L1145.5 712.1L1147.0 709.8L1148.5 707.8L1150.0 714.7L1151.5 713.5L1153.0 713.7L1154.5 711.4L1156.0 715.5L1157.5 712.4L1159.0 716.1L1160.5 711.1L1162.0 711.4L1163.5 714.4L1165.0 712.2L1166.5 716.0L1168.0 715.1L1169.5 712.2L1171.0 714.9L1172.5 714.0L1174.0 717.5L1175.5 713.6L1177.0 714.3L1178.5 718.8L1180.0 721.6L1181.5 721.1L1183.0 716.3L1184.5 716.9L1186.0 720.5L1187.5 716.3L1189.0 714.3L1190.5 717.3L1192.0 718.3L1193.5 715.2L1195.0 713.2L1196.5 713.9L1198.0 719.6L1199.5 716.0L1201.0 717.8L1202.5 718.8L1204.0 720.0L1205.5 717.7L1207.0 720.0L1208.5 716.5L1210.0 718.0L1211.5 716.3L1213.0 722.0L1214.5 719.1L1216.0 717.3L1217.5 718.4L1219.0 718.8L1220.5 721.2L1222.0 715.3L1223.5 716.8L1225.0 718.6L1226.5 726.2L1228.0 722.1L1229.5 719.4L1231.0 721.5L1232.5 725.1L1234.0 719.2L1235.5 718.9L1237.0 723.0L1238.5 721.2L1240.0 721.7L1241.5 718.7L1243.0 725.1L1244.5 724.6L1246.0 721.7L1247.5 722.1L1249.0 715.1L1250.5 722.2L1252.0 720.1L1253.5 721.9L1255.0 722.7L1256.5 720.3L1258.0 717.0L1259.5 722.5L1261.0 719.9L1262.5 721.2L1264.0 720.7L1265.5 721.6L1267.0 716.8L1268.5 726.2L1270.0 723.9L1271.5 726.4L1273.0 728.9L1274.5 724.0L1276.0 719.4L1277.5 722.0L1279.0 721.4L1280.5 723.4L1282.0 725.0L1283.5 719.7L1285.0 726.0L1286.5 721.2L1288.0 726.1L1289.5 725.1L1291.0 724.7L1292.5 725.4L1294.0 724.3L1295.5 724.2L1297.0 721.5L1298.5 725.9L1300.0 730.8L1301.5 731.3L1303.0 729.7L1304.5 728.1L1306.0 724.6L1307.5 730.2L1309.0 726.4L1310.5 726.5L1312.0 726.0L1313.5 727.1L1315.0 725.9L1316.5 726.9L1318.0 724.4L1319.5 726.4L1321.0 733.4L1322.5 727.5L1324.0 727.2L1325.5 729.3L1327.0 729.9L1328.5 725.3L1330.0 727.8L1331.5 730.9L1333.0 729.4L1334.5 729.2L1336.0 733.1L1337.5 727.5L1339.0 729.6L1340.5 728.3L1342.0 733.7L1343.5 725.0L1345.0 728.6L1346.5 729.3L1348.0 732.7L1349.5 732.9L1351.0 735.3L1352.5 727.9L1354.0 734.3L1355.5 731.9L1357.0 731.3L1358.5 734.8L1360.0 731.4L1361.5 728.7L1363.0 733.5L1364.5 730.9L1366.0 733.4L1367.5 736.4L1369.0 736.6L1370.5 740.2L1372.0 735.8L1373.5 732.5L1375.0 734.8L1376.5 734.6L1378.0 733.9L1379.5 738.4L1381.0 735.8L1382.5 732.4L1384.0 739.5L1385.5 737.6L1387.0 738.9L1388.5 738.4L1390.0 739.9L1391.5 738.5L1393.0 741.7L1394.5 739.7L1396.0 739.7L1397.5 739.9L1399.0 735.1L1400.5 738.6L1402.0 738.4L1403.5 739.8L1405.0 735.8L1406.5 743.7L1408.0 739.8L1409.5 736.4L1411.0 735.2L1412.5 739.0L1414.0 739.6L1415.5 738.1L1417.0 740.3L1418.5 738.5L1420.0 741.7L1421.5 738.5L1423.0 740.4L1424.5 743.1L1426.0 747.4L1427.5 738.2L1429.0 739.7L1430.5 738.8L1432.0 743.2L1433.5 738.3L1435.0 740.1L1436.5 741.4L1438.0 739.1L1439.5 739.3L1441.0 740.7L1442.5 736.6L1444.0 738.4L1445.5 741.3L1447.0 742.9L1448.5 742.2L1450.0 738.2L1451.5 741.7L1453.0 745.2L1454.5 744.7L1456.0 743.2L1457.5 741.2L1459.0 745.3L1460.5 742.3L1462.0 741.0L1463.5 742.1L1465.0 748.1L1466.5 745.1L1468.0 747.7L1469.5 743.5L1471.0 747.4L1472.5 743.5L1474.0 744.9L1475.5 751.9L1477.0 747.6L1478.5 744.4L1480.0 745.7L1481.5 746.9L1483.0 749.3L1484.5 745.1L1486.0 742.0L1487.5 745.9L1489.0 746.9L1490.5 747.2L1492.0 750.5L1493.5 748.1L1495.0 749.5L1496.5 744.7L1498.0 750.0L1499.5 753.3L1501.0 750.0L1502.5 748.8L1504.0 748.7L1505.5 753.1L1507.0 746.2L1508.5 748.4L1510.0 750.1L1511.5 751.0L1513.0 748.0L1514.5 750.1L1516.0 748.7L1517.5 749.9L1519.0 749.4L1520.5 746.9L1522.0 750.0L1523.5 752.5L1525.0 747.8L1526.5 749.9L1528.0 752.4L1529.5 748.0L1531.0 751.4L1532.5 748.3L1534.0 754.2L1535.5 757.4L1537.0 756.8L1538.5 751.1L1540.0 753.7L1541.5 752.3L1543.0 752.4L1544.5 756.3L1546.0 749.0L1547.5 755.3L1549.0 752.6L1550.5 756.5L1552.0 753.5L1553.5 751.4L1555.0 754.1L1556.5 755.4L1558.0 753.8L1559.5 755.1L1561.0 752.7L1562.5 748.7L1564.0 756.7L1565.5 756.4L1567.0 755.1L1568.5 755.1L1570.0 757.8L1571.5 754.1L1573.0 753.6L1574.5 755.1L1576.0 758.9L1577.5 752.4L1579.0 759.3L1580.5 754.7L1582.0 753.6L1583.5 759.9L1585.0 756.5L1586.5 753.6L1588.0 756.2L1589.5 759.7L1591.0 760.5L1592.5 756.4L1594.0 758.7L1595.5 759.6L1597.0 756.2L1598.5 758.9L1600.0 758.0L1601.5 756.7L1603.0 756.9L1604.5 758.5L1606.0 758.4L1607.5 756.9L1609.0 757.4L1610.5 761.4L1612.0 759.1L1613.5 760.9L1615.0 761.8L1616.5 760.2L1618.0 764.6L1619.5 756.6L1621.0 760.9L1622.5 758.0L1624.0 763.7L1625.5 763.3L1627.0 753.9L1628.5 756.5L1630.0 760.7L1631.5 761.1L1633.0 761.0L1634.5 758.9L1636.0 760.3L1637.5 760.8L1639.0 759.0L1640.5 761.9L1642.0 753.4L1643.5 760.9L1645.0 756.6L1646.5 761.8L1648.0 758.8L1649.5 757.1L1651.0 760.4L1652.5 757.1L1654.0 757.2L1655.5 755.5L1657.0 759.6L1658.5 761.0L1660.0 762.4L1661.5 759.4L1663.0 762.6L1664.5 760.0L1666.0 759.7L1667.5 761.6L1669.0 762.9L1670.5 759.3L1672.0 759.7L1673.5 760.0L1675.0 760.7L1676.5 758.3L1678.0 763.4L1679.5 759.8L1681.0 762.2L1682.5 758.9L1684.0 762.1L1685.5 762.4L1687.0 760.4L1688.5 766.8L1690.0 762.7L1691.5 766.5L1693.0 764.5L1694.5 760.4L1696.0 761.2L1697.5 763.5L1699.0 762.6L1700.5 762.7L1702.0 762.0L1703.5 758.2L1705.0 762.4L1706.5 757.3L1708.0 764.2L1709.5 761.5L1711.0 761.6L1712.5 763.0L1714.0 764.4L1715.5 760.1L1717.0 759.3L1718.5 761.2L1720.0 758.8L1721.5 761.6L1723.0 768.4L1724.5 761.6L1726.0 766.1L1727.5 760.9L1729.0 765.4L1730.5 763.8L1732.0 764.6L1733.5 766.3L1735.0 769.5L1736.5 765.5L1738.0 765.4L1739.5 762.6L1741.0 766.7L1742.5 764.6L1744.0 767.5L1745.5 765.3L1747.0 770.0L1748.5 760.4L1750.0 764.9L1751.5 768.0L1753.0 764.9L1754.5 763.8L1756.0 765.2L1757.5 762.4L1759.0 766.4L1760.5 772.5L1762.0 769.2L1763.5 763.4L1765.0 764.1L1766.5 765.4L1768.0 769.1L1769.5 764.4L1771.0 764.9L1772.5 769.0L1774.0 769.1L1775.5 765.9L1777.0 764.1L1778.5 763.0L1780.0 765.3L1781.5 761.4L1783.0 769.2L1784.5 765.7L1786.0 768.7L1787.5 772.4L1789.0 770.7L1790.5 764.7L1792.0 770.0L1793.5 770.9L1795.0 766.0L1796.5 765.5L1798.0 767.8L1799.5 764.0L1801.0 772.1L1802.5 762.1L1805.0 752.0" fill="none" stroke="#ff00ff" stroke-width="16" stroke-linejoin="round" stroke-linecap="round"/>
<path d="M184.0 1065.9L185.5 1067.4L187.0 1067.5L188.5 1068.2L190.0 1068.4L191.5 1067.5L193.0 1070.0L194.5 1064.1L196.0 1067.9L197.5 1066.6L199.0 1068.2L200.5 1068.3L202.0 1066.3L203.5 1066.8L205.0 1069.4L206.5 1068.6L208.0 1066.8L209.5 1071.7L211.0 1072.2L212.5 1065.5L214.0 1068.7L215.5 1072.6L217.0 1069.6L218.5 1068.6L220.0 1067.8L221.5 1067.3L223.0 1067.9L224.5 1067.3L226.0 1069.6L227.5 1067.6L229.0 1067.6L230.5 1066.3L232.0 1068.4L233.5 1066.9L235.0 1068.2L236.5 1070.5L238.0 1069.3L239.5 1069.7L241.0 1069.5L242.5 1069.0L244.0 1068.8L245.5 1068.5L247.0 1070.5L248.5 1067.3L250.0 1071.7L251.5 1069.5L253.0 1068.1L254.5 1068.7L256.0 1068.5L257.5 1070.1L259.0 1068.6L260.5 1072.0L262.0 1068.6L263.5 1066.0L265.0 1068.9L266.5 1066.7L268.0 1070.3L269.5 1072.4L271.0 1071.8L272.5 1068.3L274.0 1069.4L275.5 1074.0L277.0 1071.5L278.5 1071.0L280.0 1073.0L281.5 1075.6L283.0 1073.6L284.5 1071.6L286.0 1072.1L287.5 1072.6L289.0 1070.5L290.5 1069.8L292.0 1071.9L293.5 1070.2L295.0 1071.9L296.5 1072.3L298.0 1076.4L299.5 1070.8L301.0 1072.3L302.5 1072.3L304.0 1073.5L305.5 1074.8L307.0 1072.2L308.5 1071.8L310.0 1070.6L311.5 1072.1L313.0 1075.0L314.5 1074.5L316.0 1072.9L317.5 1074.4L319.0 1075.5L320.5 1076.7L322.0 1075.1L323.5 1076.1L325.0 1073.7L326.5 1075.3L328.0 1080.6L329.5 1074.2L331.0 1077.9L332.5 1079.3L334.0 1078.5L335.5 1078.1L337.0 1079.8L338.5 1080.2L340.0 1080.3L341.5 1077.4L343.0 1080.8L344.5 1079.8L346.0 1080.7L347.5 1082.4L349.0 1083.4L350.5 1084.2L352.0 1082.0L353.5 1084.8L355.0 1085.5L356.5 1085.7L358.0 1086.5L359.5 1084.0L361.0 1084.2L362.5 1086.2L364.0 1082.5L365.5 1085.6L367.0 1084.4L368.5 1084.9L370.0 1082.6L371.5 1084.3L373.0 1086.0L374.5 1087.8L376.0 1088.1L377.5 1086.3L379.0 1086.2L380.5 1085.1L382.0 1087.5L383.5 1086.4L385.0 1088.1L386.5 1090.2L388.0 1087.1L389.5 1084.6L391.0 1085.8L392.5 1084.8L394.0 1085.4L395.5 1089.9L397.0 1088.1L398.5 1085.0L400.0 1088.9L401.5 1090.1L403.0 1087.2L404.5 1086.7L406.0 1087.3L407.5 1088.4L409.0 1089.1L410.5 1090.0L412.0 1090.1L413.5 1090.0L415.0 1090.3L416.5 1089.0L418.0 1085.0L419.5 1087.5L421.0 1088.3L422.5 1087.0L424.0 1089.3L425.5 1087.0L427.0 1085.9L428.5 1090.1L430.0 1088.7L431.5 1087.9L433.0 1089.1L434.5 1089.3L436.0 1088.0L437.5 1082.9L439.0 1086.0L440.5 1086.4L442.0 1085.4L443.5 1087.5L445.0 1089.3L446.5 1086.2L448.0 1085.1L449.5 1090.7L451.0 1086.2L452.5 1084.8L454.0 1087.4L455.5 1087.7L457.0 1085.7L458.5 1088.4L460.0 1086.0L461.5 1085.2L463.0 1087.2L464.5 1088.2L466.0 1085.7L467.5 1087.4L469.0 1086.6L470.5 1091.8L472.0 1085.4L473.5 1089.2L475.0 1086.5L476.5 1086.4L478.0 1087.9L479.5 1088.1L481.0 1088.8L482.5 1087.0L484.0 1085.3L485.5 1085.4L487.0 1087.2L488.5 1087.3L490.0 1088.7L491.5 1086.8L493.0 1087.9L494.5 1088.7L496.0 1086.2L497.5 1083.1L499.0 1083.6L500.5 1083.1L502.0 1088.4L503.5 1083.9L505.0 1087.6L506.5 1086.3L508.0 1088.3L509.5 1086.9L511.0 1084.8L512.5 1084.5L514.0 1084.8L515.5 1084.8L517.0 1083.3L518.5 1083.9L520.0 1086.6L521.5 1080.4L523.0 1083.6L524.5 1081.2L526.0 1082.9L527.5 1083.7L529.0 1081.8L530.5 1083.0L532.0 1078.4L533.5 1082.9L535.0 1079.5L536.5 1081.4L538.0 1080.3L539.5 1075.0L541.0 1078.0L542.5 1079.5L544.0 1081.7L545.5 1079.2L547.0 1078.9L548.5 1075.7L550.0 1080.6L551.5 1081.1L553.0 1077.7L554.5 1077.1L556.0 1074.4L557.5 1078.7L559.0 1081.9L560.5 1078.1L562.0 1079.0L563.5 1077.6L565.0 1074.7L566.5 1078.8L568.0 1074.0L569.5 1075.8L571.0 1076.5L572.5 1077.5L574.0 1076.6L575.5 1076.4L577.0 1074.3L578.5 1073.2L580.0 1075.6L581.5 1074.1L583.0 1072.9L584.5 1072.9L586.0 1074.2L587.5 1071.7L589.0 1072.5L590.5 1071.9L592.0 1075.1L593.5 1075.4L595.0 1078.2L596.5 1071.8L598.0 1073.1L599.5 1075.9L601.0 1073.8L602.5 1073.5L604.0 1077.1L605.5 1073.3L607.0 1071.7L608.5 1071.4L610.0 1074.2L611.5 1074.1L613.0 1071.0L614.5 1071.6L616.0 1074.2L617.5 1074.2L619.0 1071.9L620.5 1074.1L622.0 1073.9L623.5 1069.6L625.0 1072.1L626.5 1073.3L628.0 1071.4L629.5 1068.5L631.0 1071.7L632.5 1073.4L634.0 1074.8L635.5 1067.9L637.0 1076.4L638.5 1069.5L640.0 1073.1L641.5 1073.5L643.0 1072.9L644.5 1071.3L646.0 1068.8L647.5 1071.8L649.0 1069.2L650.5 1065.8L652.0 1075.3L653.5 1071.3L655.0 1073.1L656.5 1068.0L658.0 1072.1L659.5 1072.2L661.0 1071.9L662.5 1068.9L664.0 1066.5L665.5 1068.2L667.0 1064.3L668.5 1065.0L670.0 1068.0L671.5 1065.8L673.0 1067.1L674.5 1066.9L676.0 1070.3L677.5 1068.9L679.0 1066.2L680.5 1068.2L682.0 1064.3L683.5 1064.8L685.0 1066.7L686.5 1062.5L688.0 1063.9L689.5 1061.7L691.0 1063.9L692.5 1066.2L694.0 1061.6L695.5 1062.9L697.0 1060.5L698.5 1059.6L700.0 1059.0L701.5 1063.3L703.0 1064.4L704.5 1060.3L706.0 1057.5L707.5 1059.3L709.0 1056.6L710.5 1057.9L712.0 1056.1L713.5 1055.2L715.0 1055.0L716.5 1052.0L718.0 1051.5L719.5 1048.3L721.0 1049.8L722.5 1047.2L724.0 1048.6L725.5 1046.3L727.0 1047.3L728.5 1047.1L730.0 1042.8L731.5 1042.9L733.0 1041.8L734.5 1043.9L736.0 1044.6L737.5 1042.1L739.0 1038.9L740.5 1041.1L742.0 1034.6L743.5 1039.0L745.0 1034.0L746.5 1029.0L748.0 1037.6L749.5 1034.5L751.0 1028.6L752.5 1029.6L754.0 1027.7L755.5 1027.0L757.0 1022.9L758.5 1023.1L760.0 1023.9L761.5 1022.2L763.0 1022.6L764.5 1019.3L766.0 1022.0L767.5 1015.1L769.0 1015.4L770.5 1010.1L772.0 1009.8L773.5 1012.9L775.0 1007.2L776.5 1008.3L778.0 1005.7L779.5 1002.3L781.0 1001.8L782.5 999.8L784.0 998.1L785.5 998.5L787.0 996.3L788.5 992.1L790.0 989.4L791.5 989.2L793.0 986.2L794.5 985.7L796.0 986.0L797.5 979.9L799.0 975.3L800.5 971.8L802.0 967.2L803.5 963.6L805.0 959.6L806.5 956.3L808.0 951.1L809.5 947.8L811.0 940.6L812.5 936.2L814.0 929.8L815.5 930.5L817.0 924.1L818.5 922.1L820.0 916.0L821.5 913.1L823.0 905.8L824.5 903.4L826.0 902.8L827.5 891.6L829.0 891.8L830.5 888.6L832.0 881.9L833.5 877.7L835.0 873.6L836.5 865.0L838.0 862.3L839.5 855.7L841.0 852.5L842.5 849.5L844.0 847.5L845.5 845.1L847.0 842.7L848.5 836.4L850.0 839.8L851.5 835.4L853.0 831.6L854.5 827.3L856.0 826.5L857.5 826.6L859.0 825.8L860.5 822.0L862.0 827.2L863.5 832.1L865.0 824.5L866.5 831.4L868.0 832.5L869.5 834.3L871.0 840.0L872.5 839.1L874.0 846.0L875.5 853.6L877.0 855.9L878.5 859.6L880.0 864.6L881.5 869.1L883.0 879.9L884.5 883.3L886.0 894.7L887.5 898.2L889.0 908.4L890.5 913.5L892.0 915.0L893.5 925.6L895.0 929.0L896.5 935.2L898.0 943.8L899.5 943.6L901.0 948.3L902.5 957.5L904.0 959.4L905.5 966.3L907.0 968.3L908.5 970.3L910.0 976.1L911.5 982.9L913.0 986.8L914.5 989.4L916.0 993.8L917.5 997.5L919.0 1000.4L920.5 1008.7L922.0 1008.7L923.5 1010.1L925.0 1014.6L926.5 1020.0L928.0 1022.9L929.5 1024.4L931.0 1026.3L932.5 1030.4L934.0 1030.1L935.5 1033.5L937.0 1040.0L938.5 1040.2L940.0 1044.1L941.5 1047.8L943.0 1048.8L944.5 1049.4L946.0 1054.9L947.5 1053.8L949.0 1053.4L950.5 1056.9L952.0 1057.7L953.5 1056.6L955.0 1059.6L956.5 1060.4L958.0 1058.2L959.5 1062.6L961.0 1063.4L962.5 1064.0L964.0 1062.7L965.5 1065.9L967.0 1067.3L968.5 1068.2L970.0 1066.6L971.5 1070.5L973.0 1067.7L974.5 1070.1L976.0 1073.5L977.5 1070.3L979.0 1071.2L980.5 1074.6L982.0 1072.4L983.5 1073.1L985.0 1074.6L986.5 1076.7L988.0 1071.3L989.5 1074.5L991.0 1074.9L992.5 1075.5L994.0 1076.8L995.5 1077.7L997.0 1080.7L998.5 1079.4L1000.0 1082.1L1001.5 1083.5L1003.0 1082.2L1004.5 1084.6L1006.0 1088.1L1007.5 1086.3L1009.0 1085.1L1010.5 1086.7L1012.0 1085.7L1013.5 1088.4L1015.0 1089.9L1016.5 1087.3L1018.0 1088.9L1019.5 1091.8L1021.0 1089.2L1022.5 1090.9L1024.0 1089.1L1025.5 1089.8L1027.0 1090.8L1028.5 1096.0L1030.0 1091.7L1031.5 1091.8L1033.0 1092.1L1034.5 1093.2L1036.0 1095.0L1037.5 1094.5L1039.0 1098.2L1040.5 1095.2L1042.0 1097.7L1043.5 1095.9L1045.0 1096.8L1046.5 1093.4L1048.0 1096.0L1049.5 1096.4L1051.0 1096.3L1052.5 1093.1L1054.0 1098.8L1055.5 1096.8L1057.0 1096.9L1058.5 1097.5L1060.0 1097.8L1061.5 1099.2L1063.0 1096.4L1064.5 1097.2L1066.0 1099.6L1067.5 1099.6L1069.0 1098.9L1070.5 1098.8L1072.0 1098.6L1073.5 1100.2L1075.0 1102.7L1076.5 1098.9L1078.0 1103.9L1079.5 1102.9L1081.0 1100.9L1082.5 1103.4L1084.0 1099.6L1085.5 1099.4L1087.0 1100.5L1088.5 1102.4L1090.0 1102.8L1091.5 1102.8L1093.0 1104.2L1094.5 1100.4L1096.0 1105.5L1097.5 1102.3L1099.0 1104.0L1100.5 1104.8L1102.0 1103.7L1103.5 1103.7L1105.0 1104.6L1106.5 1106.7L1108.0 1108.1L1109.5 1108.4L1111.0 1105.9L1112.5 1106.6L1114.0 1106.7L1115.5 1109.5L1117.0 1105.4L1118.5 1111.6L1120.0 1108.9L1121.5 1108.7L1123.0 1111.1L1124.5 1112.7L1126.0 1111.8L1127.5 1113.5L1129.0 1112.2L1130.5 1114.5L1132.0 1114.9L1133.5 1112.8L1135.0 1116.0L1136.5 1114.0L1138.0 1114.3L1139.5 1112.8L1141.0 1114.3L1142.5 1116.5L1144.0 1113.1L1145.5 1117.0L1147.0 1116.7L1148.5 1116.9L1150.0 1112.8L1151.5 1116.9L1153.0 1118.6L1154.5 1116.4L1156.0 1118.2L1157.5 1114.1L1159.0 1119.9L1160.5 1117.8L1162.0 1120.9L1163.5 1116.3L1165.0 1121.2L1166.5 1119.8L1168.0 1122.0L1169.5 1119.2L1171.0 1120.0L1172.5 1125.5L1174.0 1120.2L1175.5 1120.7L1177.0 1121.7L1178.5 1120.6L1180.0 1124.9L1181.5 1126.1L1183.0 1121.9L1184.5 1120.3L1186.0 1125.8L1187.5 1125.9L1189.0 1125.6L1190.5 1126.4L1192.0 1123.0L1193.5 1124.4L1195.0 1122.5L1196.5 1122.6L1198.0 1127.1L1199.5 1124.4L1201.0 1129.9L1202.5 1126.1L1204.0 1125.0L1205.5 1127.7L1207.0 1129.7L1208.5 1127.5L1210.0 1124.6L1211.5 1127.6L1213.0 1129.5L1214.5 1126.3L1216.0 1125.9L1217.5 1129.3L1219.0 1127.8L1220.5 1125.7L1222.0 1127.1L1223.5 1126.5L1225.0 1128.5L1226.5 1128.2L1228.0 1130.2L1229.5 1129.5L1231.0 1125.5L1232.5 1129.1L1234.0 1130.1L1235.5 1129.3L1237.0 1130.5L1238.5 1127.7L1240.0 1127.1L1241.5 1130.6L1243.0 1127.1L1244.5 1125.2L1246.0 1131.1L1247.5 1128.1L1249.0 1129.0L1250.5 1127.2L1252.0 1127.4L1253.5 1127.9L1255.0 1129.5L1256.5 1131.0L1258.0 1126.4L1259.5 1132.1L1261.0 1128.8L1262.5 1129.3L1264.0 1132.6L1265.5 1131.5L1267.0 1129.1L1268.5 1135.4L1270.0 1130.7L1271.5 1133.0L1273.0 1133.1L1274.5 1135.5L1276.0 1132.4L1277.5 1135.2L1279.0 1132.3L1280.5 1135.8L1282.0 1132.6L1283.5 1133.6L1285.0 1137.8L1286.5 1135.2L1288.0 1135.0L1289.5 1139.0L1291.0 1135.8L1292.5 1133.9L1294.0 1136.9L1295.5 1133.6L1297.0 1137.9L1298.5 1138.3L1300.0 1135.2L1301.5 1135.3L1303.0 1137.0L1304.5 1136.9L1306.0 1135.3L1307.5 1138.3L1309.0 1133.8L1310.5 1136.9L1312.0 1137.2L1313.5 1137.6L1315.0 1138.9L1316.5 1136.4L1318.0 1139.9L1319.5 1138.7L1321.0 1138.2L1322.5 1137.1L1324.0 1137.7L1325.5 1140.8L1327.0 1138.7L1328.5 1140.9L1330.0 1143.0L1331.5 1143.2L1333.0 1144.4L1334.5 1141.4L1336.0 1140.3L1337.5 1144.4L1339.0 1143.4L1340.5 1145.1L1342.0 1143.4L1343.5 1145.8L1345.0 1145.5L1346.5 1145.5L1348.0 1145.4L1349.5 1145.6L1351.0 1145.5L1352.5 1145.8L1354.0 1147.5L1355.5 1145.1L1357.0 1149.5L1358.5 1146.4L1360.0 1148.7L1361.5 1147.1L1363.0 1147.1L1364.5 1151.5L1366.0 1147.6L1367.5 1146.1L1369.0 1147.5L1370.5 1148.5L1372.0 1153.2L1373.5 1150.0L1375.0 1151.6L1376.5 1148.4L1378.0 1151.2L1379.5 1152.0L1381.0 1154.4L1382.5 1150.2L1384.0 1152.8L1385.5 1152.5L1387.0 1150.5L1388.5 1152.5L1390.0 1152.4L1391.5 1148.9L1393.0 1154.5L1394.5 1154.7L1396.0 1153.2L1397.5 1151.8L1399.0 1157.1L1400.5 1155.2L1402.0 1156.8L1403.5 1157.8L1405.0 1154.6L1406.5 1157.2L1408.0 1155.5L1409.5 1156.1L1411.0 1156.3L1412.5 1156.7L1414.0 1158.9L1415.5 1157.3L1417.0 1157.1L1418.5 1157.0L1420.0 1158.4L1421.5 1156.3L1423.0 1157.2L1424.5 1158.3L1426.0 1157.5L1427.5 1158.5L1429.0 1157.8L1430.5 1162.7L1432.0 1161.7L1433.5 1160.3L1435.0 1159.6L1436.5 1163.8L1438.0 1160.6L1439.5 1160.1L1441.0 1160.9L1442.5 1161.1L1444.0 1163.3L1445.5 1160.9L1447.0 1164.9L1448.5 1159.7L1450.0 1162.7L1451.5 1159.8L1453.0 1165.0L1454.5 1161.3L1456.0 1162.0L1457.5 1164.0L1459.0 1164.7L1460.5 1160.6L1462.0 1162.2L1463.5 1160.5L1465.0 1163.4L1466.5 1163.2L1468.0 1162.9L1469.5 1162.5L1471.0 1163.2L1472.5 1162.7L1474.0 1165.2L1475.5 1167.2L1477.0 1161.2L1478.5 1164.6L1480.0 1164.3L1481.5 1166.1L1483.0 1163.7L1484.5 1165.4L1486.0 1164.0L1487.5 1167.3L1489.0 1166.5L1490.5 1166.2L1492.0 1167.4L1493.5 1166.5L1495.0 1164.4L1496.5 1168.4L1498.0 1168.1L1499.5 1167.5L1501.0 1169.8L1502.5 1170.5L1504.0 1166.5L1505.5 1167.3L1507.0 1171.8L1508.5 1171.8L1510.0 1168.1L1511.5 1167.5L1513.0 1168.8L1514.5 1169.2L1516.0 1167.5L1517.5 1170.7L1519.0 1168.5L1520.5 1168.9L1522.0 1173.0L1523.5 1170.3L1525.0 1171.7L1526.5 1173.1L1528.0 1173.7L1529.5 1171.9L1531.0 1172.8L1532.5 1171.5L1534.0 1176.3L1535.5 1174.6L1537.0 1171.6L1538.5 1173.9L1540.0 1175.4L1541.5 1175.2L1543.0 1177.8L1544.5 1177.2L1546.0 1174.0L1547.5 1175.0L1549.0 1173.1L1550.5 1176.0L1552.0 1176.1L1553.5 1180.9L1555.0 1176.4L1556.5 1172.7L1558.0 1175.4L1559.5 1177.0L1561.0 1174.8L1562.5 1175.7L1564.0 1176.7L1565.5 1178.2L1567.0 1177.5L1568.5 1176.4L1570.0 1179.6L1571.5 1177.4L1573.0 1177.6L1574.5 1176.2L1576.0 1177.5L1577.5 1180.3L1579.0 1176.4L1580.5 1179.3L1582.0 1180.9L1583.5 1179.1L1585.0 1180.4L1586.5 1178.2L1588.0 1182.7L1589.5 1182.5L1591.0 1181.2L1592.5 1177.7L1594.0 1179.2L1595.5 1183.0L1597.0 1184.5L1598.5 1182.2L1600.0 1184.1L1601.5 1180.9L1603.0 1181.8L1604.5 1182.4L1606.0 1183.3L1607.5 1180.0L1609.0 1184.6L1610.5 1185.5L1612.0 1181.2L1613.5 1181.1L1615.0 1184.3L1616.5 1182.7L1618.0 1179.8L1619.5 1185.7L1621.0 1184.8L1622.5 1183.8L1624.0 1188.7L1625.5 1185.4L1627.0 1184.0L1628.5 1185.7L1630.0 1183.9L1631.5 1184.6L1633.0 1186.9L1634.5 1185.4L1636.0 1185.8L1637.5 1189.9L1639.0 1188.7L1640.5 1188.8L1642.0 1188.5L1643.5 1188.7L1645.0 1190.7L1646.5 1188.3L1648.0 1191.9L1649.5 1187.1L1651.0 1188.6L1652.5 1186.8L1654.0 1188.9L1655.5 1190.7L1657.0 1192.6L1658.5 1189.0L1660.0 1190.5L1661.5 1190.1L1663.0 1189.6L1664.5 1189.0L1666.0 1191.5L1667.5 1188.5L1669.0 1192.1L1670.5 1192.2L1672.0 1191.2L1673.5 1190.8L1675.0 1190.3L1676.5 1196.4L1678.0 1190.8L1679.5 1196.3L1681.0 1194.8L1682.5 1193.2L1684.0 1192.0L1685.5 1196.2L1687.0 1197.6L1688.5 1193.0L1690.0 1194.4L1691.5 1197.0L1693.0 1195.9L1694.5 1199.1L1696.0 1194.6L1697.5 1196.8L1699.0 1193.8L1700.5 1199.9L1702.0 1195.0L1703.5 1192.5L1705.0 1196.5L1706.5 1196.6L1708.0 1200.4L1709.5 1196.6L1711.0 1197.3L1712.5 1198.5L1714.0 1200.5L1715.5 1197.7L1717.0 1199.8L1718.5 1199.0L1720.0 1197.7L1721.5 1198.5L1723.0 1198.6L1724.5 1197.0L1726.0 1201.0L1727.5 1196.5L1729.0 1201.2L1730.5 1201.0L1732.0 1199.2L1733.5 1198.2L1735.0 1199.3L1736.5 1200.7L1738.0 1201.3L1739.5 1200.6L1741.0 1202.0L1742.5 1199.4L1744.0 1200.9L1745.5 1197.8L1747.0 1202.2L1748.5 1201.2L1750.0 1200.3L1751.5 1203.3L1753.0 1202.6L1754.5 1196.4L1756.0 1201.7L1757.5 1199.1L1759.0 1203.8L1760.5 1206.5L1762.0 1201.2L1763.5 1202.5L1765.0 1202.0L1766.5 1203.2L1768.0 1203.9L1769.5 1205.2L1771.0 1201.3L1772.5 1206.0L1774.0 1201.6L1775.5 1204.0L1777.0 1205.7L1778.5 1205.0L1780.0 1202.2L1781.5 1202.8L1783.0 1203.3L1784.5 1204.2L1786.0 1206.5L1787.5 1202.2L1789.0 1205.6L1790.5 1205.9L1792.0 1206.0L1793.5 1206.0L1795.0 1208.0L1796.5 1206.3L1798.0 1207.1L1799.5 1206.7L1801.0 1209.0L1802.5 1202.5L1804.0 1208.4" fill="none" stroke="#008000" stroke-width="13.5" stroke-linejoin="round" stroke-linecap="round"/>
<path d="M184.0 1433.0L185.5 1433.0L187.0 1432.2L188.5 1431.2L190.0 1432.9L191.5 1432.6L193.0 1433.9L194.5 1431.7L196.0 1434.9L197.5 1433.6L199.0 1433.1L200.5 1432.6L202.0 1432.5L203.5 1432.2L205.0 1432.8L206.5 1433.5L208.0 1433.3L209.5 1431.9L211.0 1433.2L212.5 1432.6L214.0 1433.8L215.5 1435.7L217.0 1434.3L218.5 1433.3L220.0 1431.9L221.5 1432.2L223.0 1431.9L224.5 1434.6L226.0 1433.0L227.5 1433.9L229.0 1433.2L230.5 1434.0L232.0 1435.5L233.5 1433.2L235.0 1433.7L236.5 1433.2L238.0 1435.1L239.5 1433.1L241.0 1433.0L242.5 1432.8L244.0 1432.8L245.5 1434.9L247.0 1437.3L248.5 1433.4L250.0 1435.6L251.5 1434.9L253.0 1433.5L254.5 1434.5L256.0 1434.6L257.5 1434.2L259.0 1437.1L260.5 1433.0L262.0 1435.6L263.5 1435.6L265.0 1434.6L266.5 1435.5L268.0 1436.4L269.5 1435.7L271.0 1436.0L272.5 1436.4L274.0 1433.5L275.5 1437.5L277.0 1438.4L278.5 1437.1L280.0 1437.2L281.5 1434.6L283.0 1436.1L284.5 1435.5L286.0 1435.8L287.5 1437.6L289.0 1435.8L290.5 1436.6L292.0 1434.8L293.5 1436.8L295.0 1437.2L296.5 1436.4L298.0 1436.5L299.5 1439.5L301.0 1436.2L302.5 1436.5L304.0 1436.9L305.5 1439.2L307.0 1440.4L308.5 1438.5L310.0 1437.5L311.5 1438.0L313.0 1439.8L314.5 1437.8L316.0 1440.5L317.5 1440.6L319.0 1439.3L320.5 1440.2L322.0 1440.6L323.5 1441.7L325.0 1439.2L326.5 1441.9L328.0 1440.6L329.5 1440.5L331.0 1441.8L332.5 1441.8L334.0 1441.2L335.5 1440.9L337.0 1441.9L338.5 1444.9L340.0 1445.7L341.5 1444.6L343.0 1445.4L344.5 1443.7L346.0 1444.4L347.5 1444.9L349.0 1443.5L350.5 1443.6L352.0 1444.8L353.5 1444.3L355.0 1443.5L356.5 1445.1L358.0 1444.3L359.5 1445.7L361.0 1444.5L362.5 1444.2L364.0 1444.6L365.5 1444.2L367.0 1443.6L368.5 1443.8L370.0 1445.0L371.5 1444.9L373.0 1445.5L374.5 1442.2L376.0 1443.5L377.5 1443.4L379.0 1444.0L380.5 1443.3L382.0 1443.1L383.5 1444.5L385.0 1443.8L386.5 1442.3L388.0 1445.0L389.5 1444.5L391.0 1442.7L392.5 1444.2L394.0 1442.4L395.5 1444.4L397.0 1442.9L398.5 1442.2L400.0 1442.6L401.5 1442.1L403.0 1443.0L404.5 1443.0L406.0 1442.7L407.5 1442.0L409.0 1438.5L410.5 1442.6L412.0 1440.3L413.5 1442.6L415.0 1443.6L416.5 1442.6L418.0 1441.8L419.5 1442.0L421.0 1442.0L422.5 1441.5L424.0 1441.4L425.5 1441.0L427.0 1443.3L428.5 1442.0L430.0 1443.1L431.5 1441.7L433.0 1442.1L434.5 1442.0L436.0 1442.8L437.5 1443.4L439.0 1442.9L440.5 1442.1L442.0 1442.3L443.5 1445.2L445.0 1443.4L446.5 1443.7L448.0 1445.9L449.5 1445.8L451.0 1445.5L452.5 1444.8L454.0 1448.1L455.5 1446.2L457.0 1446.7L458.5 1446.1L460.0 1445.0L461.5 1445.2L463.0 1447.3L464.5 1447.4L466.0 1446.8L467.5 1445.8L469.0 1445.6L470.5 1446.9L472.0 1445.8L473.5 1448.4L475.0 1448.8L476.5 1450.7L478.0 1448.6L479.5 1447.0L481.0 1446.8L482.5 1444.0L484.0 1447.2L485.5 1447.7L487.0 1449.0L488.5 1448.6L490.0 1448.6L491.5 1448.3L493.0 1448.8L494.5 1449.7L496.0 1446.9L497.5 1447.6L499.0 1446.6L500.5 1449.9L502.0 1449.5L503.5 1448.8L505.0 1446.5L506.5 1447.9L508.0 1447.3L509.5 1447.5L511.0 1447.0L512.5 1447.6L514.0 1446.4L515.5 1447.5L517.0 1446.6L518.5 1445.8L520.0 1445.7L521.5 1445.1L523.0 1446.2L524.5 1444.8L526.0 1445.1L527.5 1444.1L529.0 1442.7L530.5 1445.1L532.0 1442.7L533.5 1444.4L535.0 1444.0L536.5 1441.5L538.0 1442.2L539.5 1442.5L541.0 1442.1L542.5 1441.6L544.0 1443.7L545.5 1442.6L547.0 1443.4L548.5 1442.5L550.0 1443.4L551.5 1442.3L553.0 1443.2L554.5 1444.0L556.0 1443.4L557.5 1443.0L559.0 1442.3L560.5 1443.7L562.0 1443.9L563.5 1443.2L565.0 1442.6L566.5 1444.0L568.0 1446.1L569.5 1443.0L571.0 1443.7L572.5 1443.7L574.0 1440.4L575.5 1443.3L577.0 1442.3L578.5 1444.5L580.0 1442.6L581.5 1442.0L583.0 1442.6L584.5 1442.9L586.0 1442.0L587.5 1442.5L589.0 1441.0L590.5 1442.2L592.0 1443.3L593.5 1444.5L595.0 1443.1L596.5 1442.5L598.0 1443.5L599.5 1443.3L601.0 1444.0L602.5 1443.3L604.0 1442.0L605.5 1442.4L607.0 1442.3L608.5 1442.4L610.0 1442.3L611.5 1441.2L613.0 1439.8L614.5 1441.4L616.0 1439.9L617.5 1442.2L619.0 1442.1L620.5 1440.3L622.0 1442.9L623.5 1443.1L625.0 1442.2L626.5 1443.9L628.0 1444.2L629.5 1440.8L631.0 1443.2L632.5 1442.6L634.0 1442.6L635.5 1443.1L637.0 1441.3L638.5 1441.4L640.0 1441.2L641.5 1441.3L643.0 1442.0L644.5 1440.5L646.0 1440.9L647.5 1442.7L649.0 1442.0L650.5 1442.5L652.0 1440.0L653.5 1441.2L655.0 1441.4L656.5 1441.9L658.0 1441.1L659.5 1442.6L661.0 1441.3L662.5 1441.1L664.0 1440.9L665.5 1441.3L667.0 1439.7L668.5 1441.2L670.0 1440.1L671.5 1439.4L673.0 1438.9L674.5 1439.1L676.0 1439.2L677.5 1438.8L679.0 1437.7L680.5 1437.9L682.0 1436.7L683.5 1437.5L685.0 1435.7L686.5 1433.1L688.0 1436.4L689.5 1434.7L691.0 1433.0L692.5 1433.7L694.0 1432.6L695.5 1435.6L697.0 1433.5L698.5 1431.0L700.0 1433.0L701.5 1431.7L703.0 1434.0L704.5 1430.5L706.0 1428.9L707.5 1431.2L709.0 1430.6L710.5 1430.3L712.0 1428.1L713.5 1430.7L715.0 1431.9L716.5 1427.7L718.0 1430.8L719.5 1428.7L721.0 1431.7L722.5 1429.3L724.0 1428.4L725.5 1429.5L727.0 1428.6L728.5 1427.1L730.0 1428.3L731.5 1426.6L733.0 1424.9L734.5 1428.8L736.0 1425.8L737.5 1425.2L739.0 1425.8L740.5 1423.3L742.0 1423.1L743.5 1423.6L745.0 1423.0L746.5 1423.1L748.0 1423.6L749.5 1421.3L751.0 1421.7L752.5 1421.1L754.0 1418.6L755.5 1419.4L757.0 1417.4L758.5 1418.9L760.0 1417.6L761.5 1416.4L763.0 1414.1L764.5 1415.0L766.0 1413.2L767.5 1414.0L769.0 1412.3L770.5 1410.8L772.0 1411.9L773.5 1410.8L775.0 1408.5L776.5 1409.6L778.0 1407.1L779.5 1406.2L781.0 1405.8L782.5 1403.9L784.0 1403.3L785.5 1402.7L787.0 1403.6L788.5 1402.5L790.0 1399.6L791.5 1400.6L793.0 1397.8L794.5 1397.2L796.0 1396.6L797.5 1394.9L799.0 1396.0L800.5 1392.4L802.0 1389.6L803.5 1391.0L805.0 1387.7L806.5 1386.4L808.0 1381.8L809.5 1384.6L811.0 1382.6L812.5 1380.8L814.0 1379.2L815.5 1378.0L817.0 1374.2L818.5 1373.2L820.0 1369.2L821.5 1367.3L823.0 1366.4L824.5 1362.9L826.0 1357.9L827.5 1356.3L829.0 1352.1L830.5 1347.5L832.0 1344.4L833.5 1338.8L835.0 1333.3L836.5 1331.0L838.0 1330.7L839.5 1321.4L841.0 1316.5L842.5 1310.3L844.0 1304.6L845.5 1297.0L847.0 1292.4L848.5 1287.0L850.0 1281.0L851.5 1272.0L853.0 1264.2L854.5 1260.2L856.0 1254.7L857.5 1248.4L859.0 1241.7L860.5 1236.7L862.0 1229.9L863.5 1224.1L865.0 1215.2L866.5 1210.3L868.0 1203.6L869.5 1196.4L871.0 1192.6L872.5 1187.5L874.0 1183.1L875.5 1181.1L877.0 1176.8L878.5 1178.2L880.0 1180.5L881.5 1182.8L883.0 1186.9L884.5 1188.7L886.0 1193.0L887.5 1199.6L889.0 1205.1L890.5 1213.4L892.0 1221.1L893.5 1230.7L895.0 1242.7L896.5 1249.1L898.0 1256.7L899.5 1271.9L901.0 1282.4L902.5 1292.2L904.0 1299.6L905.5 1307.7L907.0 1312.7L908.5 1320.0L910.0 1323.5L911.5 1328.6L913.0 1336.9L914.5 1341.9L916.0 1345.5L917.5 1349.8L919.0 1354.1L920.5 1357.5L922.0 1364.1L923.5 1367.2L925.0 1371.2L926.5 1375.2L928.0 1380.0L929.5 1383.2L931.0 1387.0L932.5 1388.1L934.0 1392.7L935.5 1397.1L937.0 1396.6L938.5 1399.4L940.0 1402.8L941.5 1405.0L943.0 1406.6L944.5 1406.0L946.0 1410.1L947.5 1409.8L949.0 1411.7L950.5 1414.6L952.0 1415.0L953.5 1417.4L955.0 1421.2L956.5 1419.7L958.0 1420.7L959.5 1419.9L961.0 1421.2L962.5 1421.6L964.0 1423.1L965.5 1423.3L967.0 1424.6L968.5 1425.9L970.0 1425.8L971.5 1426.1L973.0 1426.8L974.5 1429.5L976.0 1429.7L977.5 1431.4L979.0 1432.0L980.5 1431.1L982.0 1432.7L983.5 1431.0L985.0 1435.6L986.5 1435.0L988.0 1433.9L989.5 1433.4L991.0 1435.7L992.5 1433.8L994.0 1435.5L995.5 1437.8L997.0 1437.6L998.5 1437.6L1000.0 1439.8L1001.5 1438.2L1003.0 1440.2L1004.5 1439.8L1006.0 1439.9L1007.5 1441.8L1009.0 1440.5L1010.5 1444.1L1012.0 1441.7L1013.5 1444.8L1015.0 1441.7L1016.5 1443.9L1018.0 1442.2L1019.5 1442.3L1021.0 1444.3L1022.5 1445.1L1024.0 1443.2L1025.5 1446.1L1027.0 1444.2L1028.5 1445.4L1030.0 1445.9L1031.5 1446.4L1033.0 1444.0L1034.5 1447.9L1036.0 1447.0L1037.5 1446.1L1039.0 1445.6L1040.5 1445.1L1042.0 1445.6L1043.5 1447.9L1045.0 1447.1L1046.5 1446.4L1048.0 1447.3L1049.5 1449.8L1051.0 1447.8L1052.5 1447.7L1054.0 1450.0L1055.5 1449.2L1057.0 1448.9L1058.5 1448.4L1060.0 1447.5L1061.5 1448.0L1063.0 1449.0L1064.5 1449.4L1066.0 1450.2L1067.5 1450.5L1069.0 1450.3L1070.5 1450.4L1072.0 1449.2L1073.5 1448.1L1075.0 1450.0L1076.5 1449.6L1078.0 1450.1L1079.5 1450.6L1081.0 1449.6L1082.5 1449.9L1084.0 1451.1L1085.5 1451.4L1087.0 1450.7L1088.5 1452.0L1090.0 1451.3L1091.5 1450.5L1093.0 1451.8L1094.5 1453.9L1096.0 1451.1L1097.5 1453.3L1099.0 1453.6L1100.5 1453.8L1102.0 1451.3L1103.5 1454.6L1105.0 1452.6L1106.5 1452.3L1108.0 1452.4L1109.5 1453.4L1111.0 1453.0L1112.5 1452.9L1114.0 1454.6L1115.5 1452.6L1117.0 1452.4L1118.5 1454.6L1120.0 1454.7L1121.5 1455.3L1123.0 1453.2L1124.5 1455.8L1126.0 1455.3L1127.5 1456.9L1129.0 1453.9L1130.5 1455.7L1132.0 1455.4L1133.5 1454.2L1135.0 1455.4L1136.5 1457.6L1138.0 1456.1L1139.5 1456.0L1141.0 1457.9L1142.5 1458.3L1144.0 1458.5L1145.5 1456.7L1147.0 1457.7L1148.5 1459.0L1150.0 1457.3L1151.5 1457.4L1153.0 1459.3L1154.5 1460.3L1156.0 1457.5L1157.5 1456.1L1159.0 1457.5L1160.5 1458.2L1162.0 1459.3L1163.5 1460.3L1165.0 1459.6L1166.5 1459.1L1168.0 1460.2L1169.5 1459.1L1171.0 1460.3L1172.5 1459.7L1174.0 1463.5L1175.5 1461.6L1177.0 1459.9L1178.5 1459.8L1180.0 1460.5L1181.5 1459.2L1183.0 1460.3L1184.5 1460.3L1186.0 1462.2L1187.5 1460.8L1189.0 1460.5L1190.5 1459.9L1192.0 1460.1L1193.5 1461.4L1195.0 1461.3L1196.5 1462.8L1198.0 1460.9L1199.5 1462.8L1201.0 1462.0L1202.5 1461.8L1204.0 1459.6L1205.5 1460.4L1207.0 1462.7L1208.5 1463.5L1210.0 1462.2L1211.5 1462.9L1213.0 1461.6L1214.5 1461.7L1216.0 1461.5L1217.5 1463.3L1219.0 1462.7L1220.5 1462.1L1222.0 1462.0L1223.5 1463.0L1225.0 1462.8L1226.5 1461.6L1228.0 1464.5L1229.5 1462.9L1231.0 1462.7L1232.5 1464.3L1234.0 1463.9L1235.5 1462.7L1237.0 1463.4L1238.5 1461.7L1240.0 1462.2L1241.5 1460.5L1243.0 1464.4L1244.5 1461.0L1246.0 1463.9L1247.5 1462.3L1249.0 1462.2L1250.5 1463.1L1252.0 1463.6L1253.5 1464.0L1255.0 1465.4L1256.5 1463.8L1258.0 1464.5L1259.5 1462.9L1261.0 1464.4L1262.5 1463.8L1264.0 1463.1L1265.5 1463.6L1267.0 1463.7L1268.5 1464.0L1270.0 1464.3L1271.5 1463.3L1273.0 1463.1L1274.5 1464.8L1276.0 1462.2L1277.5 1463.4L1279.0 1465.9L1280.5 1461.3L1282.0 1463.5L1283.5 1465.1L1285.0 1462.7L1286.5 1467.4L1288.0 1461.8L1289.5 1466.4L1291.0 1466.7L1292.5 1466.1L1294.0 1465.0L1295.5 1465.8L1297.0 1464.6L1298.5 1466.6L1300.0 1464.7L1301.5 1465.8L1303.0 1467.3L1304.5 1465.2L1306.0 1466.2L1307.5 1466.9L1309.0 1465.5L1310.5 1468.4L1312.0 1467.6L1313.5 1465.8L1315.0 1467.5L1316.5 1466.9L1318.0 1467.2L1319.5 1468.1L1321.0 1467.4L1322.5 1469.4L1324.0 1467.7L1325.5 1469.7L1327.0 1468.7L1328.5 1469.8L1330.0 1468.4L1331.5 1468.6L1333.0 1468.1L1334.5 1470.1L1336.0 1470.7L1337.5 1472.2L1339.0 1471.4L1340.5 1470.5L1342.0 1470.2L1343.5 1471.1L1345.0 1470.9L1346.5 1472.8L1348.0 1472.5L1349.5 1470.8L1351.0 1471.3L1352.5 1473.8L1354.0 1473.0L1355.5 1472.7L1357.0 1474.6L1358.5 1473.2L1360.0 1473.6L1361.5 1473.7L1363.0 1472.4L1364.5 1475.8L1366.0 1473.8L1367.5 1474.8L1369.0 1474.9L1370.5 1476.8L1372.0 1476.2L1373.5 1476.5L1375.0 1474.9L1376.5 1476.8L1378.0 1475.5L1379.5 1477.7L1381.0 1477.9L1382.5 1477.7L1384.0 1480.1L1385.5 1478.6L1387.0 1478.9L1388.5 1478.5L1390.0 1478.3L1391.5 1479.8L1393.0 1480.1L1394.5 1477.6L1396.0 1480.3L1397.5 1479.9L1399.0 1480.5L1400.5 1480.1L1402.0 1478.4L1403.5 1478.6L1405.0 1482.0L1406.5 1480.4L1408.0 1478.7L1409.5 1480.8L1411.0 1480.2L1412.5 1478.7L1414.0 1478.3L1415.5 1479.2L1417.0 1481.4L1418.5 1481.2L1420.0 1481.1L1421.5 1481.8L1423.0 1482.3L1424.5 1479.5L1426.0 1481.6L1427.5 1481.2L1429.0 1480.9L1430.5 1481.8L1432.0 1482.4L1433.5 1482.4L1435.0 1481.2L1436.5 1482.4L1438.0 1485.3L1439.5 1482.1L1441.0 1481.6L1442.5 1483.9L1444.0 1484.4L1445.5 1484.4L1447.0 1482.8L1448.5 1485.3L1450.0 1483.5L1451.5 1483.3L1453.0 1484.0L1454.5 1484.7L1456.0 1485.8L1457.5 1485.8L1459.0 1485.3L1460.5 1486.5L1462.0 1485.7L1463.5 1486.8L1465.0 1484.4L1466.5 1484.3L1468.0 1487.1L1469.5 1484.9L1471.0 1486.2L1472.5 1486.6L1474.0 1486.3L1475.5 1486.5L1477.0 1488.7L1478.5 1484.5L1480.0 1488.4L1481.5 1490.1L1483.0 1487.7L1484.5 1487.8L1486.0 1488.8L1487.5 1490.1L1489.0 1486.9L1490.5 1488.5L1492.0 1488.3L1493.5 1489.2L1495.0 1488.9L1496.5 1489.6L1498.0 1488.5L1499.5 1489.2L1501.0 1488.5L1502.5 1488.6L1504.0 1489.3L1505.5 1489.4L1507.0 1488.4L1508.5 1491.6L1510.0 1489.8L1511.5 1488.6L1513.0 1491.4L1514.5 1489.5L1516.0 1491.0L1517.5 1490.5L1519.0 1490.9L1520.5 1490.9L1522.0 1490.2L1523.5 1491.0L1525.0 1493.3L1526.5 1488.7L1528.0 1491.4L1529.5 1491.9L1531.0 1490.3L1532.5 1490.1L1534.0 1494.1L1535.5 1491.4L1537.0 1494.2L1538.5 1492.6L1540.0 1492.2L1541.5 1492.7L1543.0 1493.0L1544.5 1493.7L1546.0 1493.0L1547.5 1492.7L1549.0 1492.9L1550.5 1494.2L1552.0 1493.7L1553.5 1491.8L1555.0 1492.3L1556.5 1493.5L1558.0 1492.5L1559.5 1492.9L1561.0 1492.3L1562.5 1493.2L1564.0 1494.0L1565.5 1494.7L1567.0 1493.7L1568.5 1496.1L1570.0 1493.8L1571.5 1497.5L1573.0 1495.2L1574.5 1494.7L1576.0 1493.7L1577.5 1491.2L1579.0 1494.2L1580.5 1494.7L1582.0 1496.6L1583.5 1493.1L1585.0 1496.8L1586.5 1494.5L1588.0 1495.6L1589.5 1492.1L1591.0 1495.1L1592.5 1494.6L1594.0 1495.8L1595.5 1495.3L1597.0 1494.0L1598.5 1496.3L1600.0 1496.1L1601.5 1496.0L1603.0 1496.5L1604.5 1496.7L1606.0 1495.5L1607.5 1494.1L1609.0 1494.1L1610.5 1497.2L1612.0 1496.5L1613.5 1495.9L1615.0 1495.3L1616.5 1495.9L1618.0 1495.9L1619.5 1495.5L1621.0 1495.2L1622.5 1498.4L1624.0 1496.3L1625.5 1495.4L1627.0 1494.6L1628.5 1495.3L1630.0 1496.9L1631.5 1497.0L1633.0 1496.0L1634.5 1496.3L1636.0 1495.9L1637.5 1495.1L1639.0 1497.7L1640.5 1496.8L1642.0 1499.1L1643.5 1495.6L1645.0 1496.3L1646.5 1497.4L1648.0 1496.2L1649.5 1495.0L1651.0 1495.5L1652.5 1496.7L1654.0 1497.0L1655.5 1496.6L1657.0 1497.9L1658.5 1497.9L1660.0 1497.2L1661.5 1496.9L1663.0 1496.7L1664.5 1497.6L1666.0 1498.1L1667.5 1497.2L1669.0 1497.7L1670.5 1496.9L1672.0 1495.7L1673.5 1496.3L1675.0 1498.3L1676.5 1498.0L1678.0 1499.3L1679.5 1497.7L1681.0 1498.7L1682.5 1499.3L1684.0 1499.0L1685.5 1497.3L1687.0 1497.8L1688.5 1498.3L1690.0 1497.1L1691.5 1498.8L1693.0 1499.5L1694.5 1497.9L1696.0 1500.7L1697.5 1498.3L1699.0 1498.5L1700.5 1498.5L1702.0 1498.1L1703.5 1499.4L1705.0 1499.1L1706.5 1501.0L1708.0 1499.9L1709.5 1499.9L1711.0 1499.1L1712.5 1497.9L1714.0 1499.4L1715.5 1498.7L1717.0 1500.8L1718.5 1499.7L1720.0 1501.7L1721.5 1500.7L1723.0 1500.9L1724.5 1500.3L1726.0 1500.4L1727.5 1500.9L1729.0 1501.3L1730.5 1499.6L1732.0 1501.0L1733.5 1503.4L1735.0 1500.5L1736.5 1500.4L1738.0 1500.0L1739.5 1499.2L1741.0 1502.2L1742.5 1501.0L1744.0 1501.4L1745.5 1503.1L1747.0 1503.9L1748.5 1500.3L1750.0 1502.5L1751.5 1502.1L1753.0 1501.9L1754.5 1502.1L1756.0 1501.6L1757.5 1503.5L1759.0 1502.5L1760.5 1502.2L1762.0 1503.3L1763.5 1503.0L1765.0 1502.6L1766.5 1502.5L1768.0 1504.2L1769.5 1502.9L1771.0 1502.3L1772.5 1501.5L1774.0 1502.1L1775.5 1501.4L1777.0 1502.8L1778.5 1503.0L1780.0 1500.6L1781.5 1502.9L1783.0 1503.7L1784.5 1503.2L1786.0 1502.1L1787.5 1504.6L1789.0 1502.5L1790.5 1502.0L1792.0 1502.2L1793.5 1503.5L1795.0 1504.6L1796.5 1504.9L1798.0 1503.9L1799.5 1502.5L1801.0 1503.1L1802.5 1502.9L1804.0 1503.8L1806.0 1492.0" fill="none" stroke="#0000ff" stroke-width="14" stroke-linejoin="round" stroke-linecap="round"/>
<path d="M184.0 1890.5L185.0 1891.4L186.0 1891.6L187.0 1891.2L188.0 1891.5L189.0 1890.9L190.0 1890.6L191.0 1891.0L192.0 1891.8L193.0 1891.8L194.0 1891.1L195.0 1891.8L196.0 1891.2L197.0 1892.0L198.0 1891.5L199.0 1891.1L200.0 1891.7L201.0 1891.0L202.0 1890.9L203.0 1890.6L204.0 1891.4L205.0 1891.3L206.0 1891.3L207.0 1891.1L208.0 1891.9L209.0 1891.1L210.0 1891.0L211.0 1891.9L212.0 1891.9L213.0 1891.5L214.0 1890.5L215.0 1891.0L216.0 1891.6L217.0 1891.3L218.0 1892.0L219.0 1890.7L220.0 1891.6L221.0 1891.0L222.0 1891.9L223.0 1891.3L224.0 1891.8L225.0 1891.0L226.0 1890.7L227.0 1890.8L228.0 1891.0L229.0 1890.8L230.0 1891.8L231.0 1891.9L232.0 1891.4L233.0 1890.8L234.0 1891.2L235.0 1891.0L236.0 1892.0L237.0 1891.4L238.0 1891.5L239.0 1891.1L240.0 1890.4L241.0 1891.0L242.0 1890.8L243.0 1891.5L244.0 1891.3L245.0 1890.9L246.0 1891.1L247.0 1892.0L248.0 1890.9L249.0 1890.9L250.0 1891.2L251.0 1891.0L252.0 1891.1L253.0 1891.5L254.0 1892.1L255.0 1890.5L256.0 1891.3L257.0 1891.3L258.0 1891.3L259.0 1891.2L260.0 1891.1L261.0 1891.8L262.0 1891.1L263.0 1891.2L264.0 1891.3L265.0 1891.3L266.0 1891.2L267.0 1891.7L268.0 1891.3L269.0 1891.4L270.0 1891.3L271.0 1890.8L272.0 1890.9L273.0 1890.8L274.0 1891.4L275.0 1891.0L276.0 1890.8L277.0 1891.4L278.0 1891.5L279.0 1890.5L280.0 1892.1L281.0 1891.3L282.0 1891.3L283.0 1891.8L284.0 1891.3L285.0 1891.0L286.0 1892.3L287.0 1890.8L288.0 1891.3L289.0 1891.7L290.0 1890.8L291.0 1891.3L292.0 1891.5L293.0 1892.4L294.0 1890.9L295.0 1891.3L296.0 1891.6L297.0 1891.3L298.0 1890.8L299.0 1891.5L300.0 1891.3L301.0 1891.5L302.0 1891.8L303.0 1891.8L304.0 1891.5L305.0 1891.4L306.0 1890.8L307.0 1891.2L308.0 1891.4L309.0 1891.1L310.0 1891.3L311.0 1890.9L312.0 1892.0L313.0 1892.3L314.0 1891.1L315.0 1891.5L316.0 1891.2L317.0 1891.9L318.0 1891.5L319.0 1891.3L320.0 1891.2L321.0 1891.4L322.0 1890.8L323.0 1891.6L324.0 1891.0L325.0 1891.5L326.0 1891.4L327.0 1891.8L328.0 1891.3L329.0 1891.8L330.0 1890.9L331.0 1891.6L332.0 1891.2L333.0 1891.4L334.0 1891.3L335.0 1891.7L336.0 1890.4L337.0 1891.4L338.0 1890.6L339.0 1891.8L340.0 1890.4L341.0 1890.8L342.0 1890.5L343.0 1892.0L344.0 1890.7L345.0 1891.4L346.0 1891.1L347.0 1890.5L348.0 1891.1L349.0 1891.6L350.0 1891.2L351.0 1891.7L352.0 1891.1L353.0 1891.3L354.0 1891.1L355.0 1891.5L356.0 1892.2L357.0 1891.5L358.0 1891.4L359.0 1891.0L360.0 1891.0L361.0 1892.0L362.0 1890.8L363.0 1890.9L364.0 1891.3L365.0 1891.1L366.0 1892.2L367.0 1890.2L368.0 1891.5L369.0 1891.6L370.0 1890.8L371.0 1891.0L372.0 1891.5L373.0 1892.0L374.0 1890.9L375.0 1890.6L376.0 1891.7L377.0 1892.0L378.0 1891.1L379.0 1890.3L380.0 1892.0L381.0 1891.2L382.0 1891.8L383.0 1891.3L384.0 1891.1L385.0 1891.1L386.0 1892.0L387.0 1891.9L388.0 1890.3L389.0 1890.9L390.0 1892.1L391.0 1891.1L392.0 1890.7L393.0 1891.3L394.0 1891.3L395.0 1891.3L396.0 1891.1L397.0 1891.2L398.0 1891.1L399.0 1891.5L400.0 1891.0L401.0 1891.2L402.0 1891.3L403.0 1892.0L404.0 1891.6L405.0 1891.4L406.0 1891.7L407.0 1891.6L408.0 1891.9L409.0 1891.7L410.0 1892.3L411.0 1892.1L412.0 1891.5L413.0 1891.3L414.0 1891.9L415.0 1891.8L416.0 1891.5L417.0 1890.9L418.0 1890.8L419.0 1891.8L420.0 1892.0L421.0 1892.0L422.0 1891.1L423.0 1892.1L424.0 1891.4L425.0 1891.9L426.0 1891.9L427.0 1891.4L428.0 1891.5L429.0 1890.8L430.0 1891.4L431.0 1891.0L432.0 1892.0L433.0 1891.9L434.0 1892.3L435.0 1892.0L436.0 1891.6L437.0 1892.1L438.0 1891.8L439.0 1892.2L440.0 1892.1L441.0 1891.5L442.0 1892.0L443.0 1892.0L444.0 1891.9L445.0 1892.4L446.0 1892.8L447.0 1891.9L448.0 1891.9L449.0 1891.1L450.0 1892.1L451.0 1892.0L452.0 1891.2L453.0 1892.3L454.0 1892.5L455.0 1891.9L456.0 1892.1L457.0 1891.8L458.0 1892.6L459.0 1891.6L460.0 1892.1L461.0 1893.2L462.0 1892.3L463.0 1892.5L464.0 1892.3L465.0 1891.8L466.0 1892.3L467.0 1892.6L468.0 1891.9L469.0 1892.5L470.0 1893.0L471.0 1892.9L472.0 1891.7L473.0 1892.0L474.0 1891.7L475.0 1892.9L476.0 1892.7L477.0 1892.8L478.0 1892.1L479.0 1891.9L480.0 1892.5L481.0 1892.5L482.0 1892.1L483.0 1892.6L484.0 1892.8L485.0 1892.6L486.0 1892.0L487.0 1891.5L488.0 1892.4L489.0 1892.6L490.0 1892.4L491.0 1892.3L492.0 1892.2L493.0 1892.8L494.0 1892.5L495.0 1892.6L496.0 1892.1L497.0 1892.2L498.0 1892.6L499.0 1892.0L500.0 1891.9L501.0 1892.3L502.0 1893.0L503.0 1892.6L504.0 1893.1L505.0 1892.4L506.0 1892.3L507.0 1891.9L508.0 1892.2L509.0 1893.1L510.0 1892.6L511.0 1892.8L512.0 1892.8L513.0 1892.5L514.0 1892.4L515.0 1892.5L516.0 1892.8L517.0 1892.7L518.0 1892.7L519.0 1892.5L520.0 1892.1L521.0 1892.3L522.0 1892.0L523.0 1892.9L524.0 1891.5L525.0 1892.3L526.0 1893.5L527.0 1892.3L528.0 1891.9L529.0 1892.4L530.0 1893.0L531.0 1892.3L532.0 1892.7L533.0 1892.4L534.0 1892.2L535.0 1893.8L536.0 1892.4L537.0 1892.1L538.0 1892.1L539.0 1892.5L540.0 1892.5L541.0 1892.7L542.0 1892.4L543.0 1891.7L544.0 1892.6L545.0 1892.2L546.0 1892.2L547.0 1891.7L548.0 1892.1L549.0 1892.0L550.0 1892.3L551.0 1891.6L552.0 1892.3L553.0 1892.3L554.0 1891.8L555.0 1892.0L556.0 1891.9L557.0 1892.7L558.0 1891.1L559.0 1892.1L560.0 1891.5L561.0 1892.0L562.0 1892.6L563.0 1891.9L564.0 1892.3L565.0 1891.8L566.0 1893.1L567.0 1892.6L568.0 1892.7L569.0 1891.6L570.0 1891.7L571.0 1892.6L572.0 1892.1L573.0 1892.0L574.0 1892.3L575.0 1891.6L576.0 1892.5L577.0 1892.1L578.0 1892.3L579.0 1891.8L580.0 1892.3L581.0 1891.8L582.0 1892.5L583.0 1892.6L584.0 1892.5L585.0 1892.3L586.0 1892.3L587.0 1890.8L588.0 1892.4L589.0 1891.9L590.0 1892.0L591.0 1891.9L592.0 1891.4L593.0 1891.7L594.0 1892.2L595.0 1892.6L596.0 1891.6L597.0 1891.5L598.0 1892.5L599.0 1891.5L600.0 1892.8L601.0 1891.8L602.0 1891.4L603.0 1892.2L604.0 1892.5L605.0 1891.1L606.0 1892.4L607.0 1891.6L608.0 1892.3L609.0 1891.4L610.0 1890.9L611.0 1891.8L612.0 1891.9L613.0 1892.4L614.0 1892.2L615.0 1891.7L616.0 1891.3L617.0 1891.1L618.0 1891.2L619.0 1890.9L620.0 1891.1L621.0 1890.1L622.0 1891.3L623.0 1891.1L624.0 1892.2L625.0 1891.4L626.0 1890.8L627.0 1891.2L628.0 1890.4L629.0 1890.6L630.0 1890.0L631.0 1891.5L632.0 1891.0L633.0 1890.2L634.0 1890.7L635.0 1891.1L636.0 1890.8L637.0 1890.7L638.0 1890.1L639.0 1890.2L640.0 1890.5L641.0 1890.8L642.0 1890.0L643.0 1889.8L644.0 1890.8L645.0 1889.8L646.0 1890.6L647.0 1890.2L648.0 1890.5L649.0 1890.8L650.0 1890.3L651.0 1890.3L652.0 1889.5L653.0 1889.5L654.0 1890.1L655.0 1890.4L656.0 1890.3L657.0 1890.7L658.0 1889.8L659.0 1889.7L660.0 1890.0L661.0 1889.5L662.0 1889.4L663.0 1888.9L664.0 1889.8L665.0 1888.9L666.0 1889.5L667.0 1888.6L668.0 1889.7L669.0 1888.7L670.0 1889.5L671.0 1888.4L672.0 1888.8L673.0 1889.5L674.0 1888.6L675.0 1888.9L676.0 1888.7L677.0 1887.8L678.0 1888.9L679.0 1888.9L680.0 1888.2L681.0 1888.9L682.0 1888.2L683.0 1888.1L684.0 1888.5L685.0 1888.2L686.0 1889.5L687.0 1887.7L688.0 1888.7L689.0 1888.7L690.0 1887.3L691.0 1887.4L692.0 1888.4L693.0 1887.9L694.0 1888.2L695.0 1888.5L696.0 1887.8L697.0 1887.4L698.0 1886.6L699.0 1887.9L700.0 1887.3L701.0 1887.8L702.0 1887.7L703.0 1887.0L704.0 1888.3L705.0 1887.9L706.0 1887.8L707.0 1886.8L708.0 1887.1L709.0 1887.0L710.0 1887.0L711.0 1886.6L712.0 1887.2L713.0 1887.1L714.0 1887.1L715.0 1886.6L716.0 1887.4L717.0 1886.8L718.0 1885.4L719.0 1886.3L720.0 1886.5L721.0 1886.9L722.0 1886.2L723.0 1886.2L724.0 1885.9L725.0 1886.5L726.0 1885.9L727.0 1885.7L728.0 1885.6L729.0 1886.1L730.0 1885.5L731.0 1884.9L732.0 1885.8L733.0 1885.1L734.0 1885.5L735.0 1885.4L736.0 1885.7L737.0 1885.5L738.0 1884.6L739.0 1884.7L740.0 1884.1L741.0 1885.3L742.0 1884.6L743.0 1884.9L744.0 1884.0L745.0 1883.1L746.0 1884.5L747.0 1883.8L748.0 1883.6L749.0 1883.5L750.0 1883.6L751.0 1883.4L752.0 1882.3L753.0 1883.3L754.0 1882.4L755.0 1882.3L756.0 1883.2L757.0 1882.6L758.0 1881.9L759.0 1881.1L760.0 1881.8L761.0 1881.9L762.0 1881.4L763.0 1880.8L764.0 1880.8L765.0 1880.5L766.0 1881.0L767.0 1881.1L768.0 1881.0L769.0 1880.1L770.0 1880.4L771.0 1880.4L772.0 1879.8L773.0 1879.8L774.0 1880.7L775.0 1879.7L776.0 1879.8L777.0 1879.1L778.0 1879.1L779.0 1878.2L780.0 1878.8L781.0 1879.2L782.0 1879.4L783.0 1878.8L784.0 1878.4L785.0 1877.9L786.0 1877.5L787.0 1877.5L788.0 1877.6L789.0 1876.8L790.0 1877.3L791.0 1876.3L792.0 1875.7L793.0 1875.8L794.0 1875.3L795.0 1875.2L796.0 1876.1L797.0 1875.2L798.0 1875.1L799.0 1875.3L800.0 1875.1L801.0 1874.0L802.0 1874.5L803.0 1873.8L804.0 1873.3L805.0 1873.2L806.0 1872.1L807.0 1872.0L808.0 1872.0L809.0 1872.0L810.0 1871.2L811.0 1870.9L812.0 1871.0L813.0 1870.8L814.0 1870.1L815.0 1869.9L816.0 1868.7L817.0 1868.3L818.0 1868.1L819.0 1867.3L820.0 1866.7L821.0 1867.2L822.0 1865.8L823.0 1864.9L824.0 1865.0L825.0 1865.0L826.0 1863.6L827.0 1863.5L828.0 1862.1L829.0 1861.3L830.0 1860.5L831.0 1860.0L832.0 1860.1L833.0 1858.0L834.0 1858.4L835.0 1856.3L836.0 1855.8L837.0 1855.3L838.0 1854.2L839.0 1853.0L840.0 1851.1L841.0 1850.9L842.0 1849.1L843.0 1849.4L844.0 1846.9L845.0 1845.7L846.0 1843.7L847.0 1842.5L848.0 1840.6L849.0 1840.0L850.0 1837.7L851.0 1836.3L852.0 1833.9L853.0 1831.9L854.0 1830.6L855.0 1827.4L856.0 1824.7L857.0 1823.3L858.0 1820.0L859.0 1817.6L860.0 1815.3L861.0 1811.4L862.0 1809.0L863.0 1804.8L864.0 1802.2L865.0 1798.3L866.0 1793.4L867.0 1789.2L868.0 1784.3L869.0 1779.9L870.0 1775.2L871.0 1768.5L872.0 1763.8L873.0 1756.6L874.0 1750.3L875.0 1743.0L876.0 1737.5L877.0 1728.9L878.0 1720.9L879.0 1712.0L880.0 1703.9L881.0 1693.3L882.0 1684.7L883.0 1675.8L884.0 1664.7L885.0 1654.7L886.0 1644.9L887.0 1634.3L888.0 1625.1L889.0 1616.5L890.0 1607.9L891.0 1600.9L892.0 1594.6L893.0 1591.1L894.0 1588.8L895.0 1590.6L896.0 1593.9L897.0 1599.3L898.0 1605.5L899.0 1615.1L900.0 1624.2L901.0 1633.1L902.0 1642.5L903.0 1653.0L904.0 1664.0L905.0 1673.2L906.0 1683.3L907.0 1693.1L908.0 1702.8L909.0 1711.1L910.0 1719.6L911.0 1727.6L912.0 1736.3L913.0 1743.5L914.0 1749.9L915.0 1756.0L916.0 1762.6L917.0 1769.1L918.0 1774.2L919.0 1780.2L920.0 1785.0L921.0 1789.8L922.0 1794.5L923.0 1798.6L924.0 1802.1L925.0 1806.1L926.0 1810.9L927.0 1812.8L928.0 1816.4L929.0 1820.1L930.0 1822.5L931.0 1825.0L932.0 1827.4L933.0 1830.7L934.0 1833.3L935.0 1835.8L936.0 1837.3L937.0 1839.8L938.0 1840.8L939.0 1843.3L940.0 1844.7L941.0 1846.8L942.0 1848.6L943.0 1850.3L944.0 1850.9L945.0 1853.4L946.0 1853.9L947.0 1855.0L948.0 1856.6L949.0 1857.3L950.0 1859.1L951.0 1860.3L952.0 1861.2L953.0 1862.5L954.0 1863.1L955.0 1864.2L956.0 1864.5L957.0 1866.0L958.0 1866.5L959.0 1867.5L960.0 1868.4L961.0 1869.3L962.0 1869.2L963.0 1869.9L964.0 1871.2L965.0 1872.2L966.0 1872.8L967.0 1873.7L968.0 1874.4L969.0 1874.6L970.0 1875.0L971.0 1875.1L972.0 1875.6L973.0 1876.3L974.0 1877.2L975.0 1877.6L976.0 1878.0L977.0 1878.4L978.0 1879.2L979.0 1879.4L980.0 1879.8L981.0 1880.3L982.0 1880.3L983.0 1880.4L984.0 1881.5L985.0 1881.8L986.0 1881.8L987.0 1882.1L988.0 1883.6L989.0 1882.6L990.0 1883.1L991.0 1883.7L992.0 1883.3L993.0 1884.2L994.0 1885.2L995.0 1885.1L996.0 1885.2L997.0 1885.5L998.0 1885.5L999.0 1886.1L1000.0 1885.9L1001.0 1886.0L1002.0 1886.5L1003.0 1887.1L1004.0 1887.0L1005.0 1887.4L1006.0 1886.4L1007.0 1888.0L1008.0 1888.7L1009.0 1888.5L1010.0 1887.9L1011.0 1887.9L1012.0 1888.6L1013.0 1888.2L1014.0 1889.1L1015.0 1888.7L1016.0 1889.6L1017.0 1889.9L1018.0 1888.6L1019.0 1889.8L1020.0 1889.5L1021.0 1889.3L1022.0 1889.8L1023.0 1890.1L1024.0 1890.8L1025.0 1889.8L1026.0 1891.1L1027.0 1891.7L1028.0 1891.2L1029.0 1891.3L1030.0 1891.2L1031.0 1890.8L1032.0 1891.6L1033.0 1891.7L1034.0 1892.0L1035.0 1892.9L1036.0 1892.2L1037.0 1892.2L1038.0 1892.8L1039.0 1891.6L1040.0 1891.8L1041.0 1892.2L1042.0 1892.2L1043.0 1892.9L1044.0 1892.6L1045.0 1893.6L1046.0 1893.6L1047.0 1893.3L1048.0 1892.9L1049.0 1893.4L1050.0 1893.6L1051.0 1892.9L1052.0 1893.6L1053.0 1893.8L1054.0 1893.7L1055.0 1894.4L1056.0 1894.3L1057.0 1893.5L1058.0 1894.0L1059.0 1893.6L1060.0 1894.3L1061.0 1893.7L1062.0 1894.6L1063.0 1894.4L1064.0 1894.8L1065.0 1894.3L1066.0 1893.8L1067.0 1895.3L1068.0 1894.5L1069.0 1895.3L1070.0 1894.9L1071.0 1895.1L1072.0 1895.7L1073.0 1895.1L1074.0 1895.6L1075.0 1894.4L1076.0 1895.5L1077.0 1895.0L1078.0 1895.2L1079.0 1895.3L1080.0 1895.5L1081.0 1896.1L1082.0 1894.6L1083.0 1895.5L1084.0 1895.2L1085.0 1896.1L1086.0 1895.4L1087.0 1895.9L1088.0 1895.6L1089.0 1896.1L1090.0 1896.3L1091.0 1895.7L1092.0 1896.0L1093.0 1895.3L1094.0 1896.2L1095.0 1896.4L1096.0 1895.9L1097.0 1896.7L1098.0 1895.3L1099.0 1895.4L1100.0 1895.6L1101.0 1896.1L1102.0 1896.4L1103.0 1896.4L1104.0 1896.4L1105.0 1896.8L1106.0 1896.3L1107.0 1896.0L1108.0 1896.0L1109.0 1897.6L1110.0 1895.6L1111.0 1896.6L1112.0 1897.4L1113.0 1897.0L1114.0 1896.4L1115.0 1896.8L1116.0 1897.2L1117.0 1897.4L1118.0 1896.4L1119.0 1897.2L1120.0 1897.0L1121.0 1897.4L1122.0 1897.5L1123.0 1896.7L1124.0 1896.2L1125.0 1897.1L1126.0 1897.7L1127.0 1897.2L1128.0 1897.0L1129.0 1898.0L1130.0 1896.5L1131.0 1897.4L1132.0 1896.7L1133.0 1897.0L1134.0 1897.0L1135.0 1897.7L1136.0 1896.6L1137.0 1896.7L1138.0 1896.3L1139.0 1897.2L1140.0 1896.8L1141.0 1897.2L1142.0 1896.5L1143.0 1896.9L1144.0 1897.5L1145.0 1897.0L1146.0 1897.3L1147.0 1897.3L1148.0 1896.9L1149.0 1896.3L1150.0 1897.5L1151.0 1897.1L1152.0 1897.5L1153.0 1896.2L1154.0 1896.3L1155.0 1896.1L1156.0 1896.7L1157.0 1897.5L1158.0 1897.3L1159.0 1897.1L1160.0 1897.1L1161.0 1897.4L1162.0 1897.0L1163.0 1897.3L1164.0 1897.2L1165.0 1896.1L1166.0 1896.9L1167.0 1897.7L1168.0 1896.9L1169.0 1897.1L1170.0 1896.8L1171.0 1896.9L1172.0 1897.6L1173.0 1897.0L1174.0 1896.7L1175.0 1895.7L1176.0 1896.9L1177.0 1896.3L1178.0 1896.3L1179.0 1897.5L1180.0 1897.5L1181.0 1896.3L1182.0 1897.6L1183.0 1897.4L1184.0 1896.8L1185.0 1897.5L1186.0 1896.5L1187.0 1896.7L1188.0 1896.6L1189.0 1896.7L1190.0 1897.6L1191.0 1896.6L1192.0 1896.7L1193.0 1896.8L1194.0 1897.3L1195.0 1897.1L1196.0 1897.6L1197.0 1896.9L1198.0 1896.7L1199.0 1897.0L1200.0 1897.3L1201.0 1896.9L1202.0 1897.4L1203.0 1898.1L1204.0 1897.0L1205.0 1897.3L1206.0 1897.9L1207.0 1897.0L1208.0 1896.9L1209.0 1896.8L1210.0 1897.5L1211.0 1897.6L1212.0 1897.3L1213.0 1897.4L1214.0 1897.9L1215.0 1897.8L1216.0 1896.7L1217.0 1897.4L1218.0 1897.4L1219.0 1897.7L1220.0 1897.3L1221.0 1897.1L1222.0 1897.2L1223.0 1896.6L1224.0 1897.4L1225.0 1897.2L1226.0 1897.6L1227.0 1897.0L1228.0 1897.2L1229.0 1897.0L1230.0 1897.0L1231.0 1897.8L1232.0 1897.3L1233.0 1897.7L1234.0 1897.0L1235.0 1897.5L1236.0 1896.7L1237.0 1897.3L1238.0 1897.3L1239.0 1897.8L1240.0 1897.6L1241.0 1897.4L1242.0 1897.9L1243.0 1897.6L1244.0 1897.8L1245.0 1897.9L1246.0 1897.5L1247.0 1897.4L1248.0 1897.7L1249.0 1897.4L1250.0 1897.8L1251.0 1898.1L1252.0 1898.0L1253.0 1897.4L1254.0 1897.0L1255.0 1897.6L1256.0 1897.6L1257.0 1898.1L1258.0 1897.5L1259.0 1897.5L1260.0 1898.0L1261.0 1897.4L1262.0 1897.6L1263.0 1898.4L1264.0 1898.3L1265.0 1898.0L1266.0 1897.8L1267.0 1897.3L1268.0 1897.9L1269.0 1897.7L1270.0 1897.8L1271.0 1897.5L1272.0 1897.7L1273.0 1897.6L1274.0 1897.9L1275.0 1898.4L1276.0 1897.9L1277.0 1897.0L1278.0 1897.3L1279.0 1897.1L1280.0 1897.4L1281.0 1898.0L1282.0 1898.0L1283.0 1897.5L1284.0 1897.9L1285.0 1897.5L1286.0 1897.2L1287.0 1897.2L1288.0 1897.4L1289.0 1898.5L1290.0 1897.2L1291.0 1898.4L1292.0 1898.5L1293.0 1897.8L1294.0 1897.8L1295.0 1897.6L1296.0 1897.9L1297.0 1898.2L1298.0 1897.9L1299.0 1898.4L1300.0 1898.4L1301.0 1898.1L1302.0 1898.1L1303.0 1897.9L1304.0 1898.1L1305.0 1897.4L1306.0 1898.1L1307.0 1898.0L1308.0 1897.6L1309.0 1898.9L1310.0 1897.5L1311.0 1897.6L1312.0 1898.1L1313.0 1897.1L1314.0 1897.6L1315.0 1897.3L1316.0 1897.6L1317.0 1898.0L1318.0 1898.2L1319.0 1898.5L1320.0 1898.4L1321.0 1898.6L1322.0 1898.3L1323.0 1897.8L1324.0 1898.6L1325.0 1897.9L1326.0 1897.8L1327.0 1898.8L1328.0 1898.4L1329.0 1898.2L1330.0 1898.4L1331.0 1898.5L1332.0 1897.5L1333.0 1898.1L1334.0 1897.6L1335.0 1898.2L1336.0 1897.8L1337.0 1898.8L1338.0 1898.4L1339.0 1897.8L1340.0 1898.2L1341.0 1897.6L1342.0 1898.2L1343.0 1898.4L1344.0 1898.3L1345.0 1897.3L1346.0 1898.1L1347.0 1898.4L1348.0 1898.4L1349.0 1898.7L1350.0 1897.7L1351.0 1898.5L1352.0 1897.9L1353.0 1898.3L1354.0 1898.4L1355.0 1898.6L1356.0 1898.0L1357.0 1898.4L1358.0 1897.8L1359.0 1897.7L1360.0 1898.5L1361.0 1898.3L1362.0 1897.6L1363.0 1897.9L1364.0 1898.3L1365.0 1899.0L1366.0 1898.8L1367.0 1898.7L1368.0 1897.5L1369.0 1898.3L1370.0 1898.6L1371.0 1898.5L1372.0 1898.5L1373.0 1898.3L1374.0 1899.2L1375.0 1899.0L1376.0 1898.3L1377.0 1898.0L1378.0 1899.3L1379.0 1898.2L1380.0 1898.9L1381.0 1899.3L1382.0 1898.0L1383.0 1898.6L1384.0 1898.3L1385.0 1898.7L1386.0 1898.6L1387.0 1899.3L1388.0 1898.7L1389.0 1898.5L1390.0 1899.0L1391.0 1898.3L1392.0 1898.3L1393.0 1899.5L1394.0 1898.1L1395.0 1898.3L1396.0 1898.5L1397.0 1898.0L1398.0 1897.6L1399.0 1899.0L1400.0 1898.2L1401.0 1898.3L1402.0 1898.4L1403.0 1898.1L1404.0 1898.1L1405.0 1898.6L1406.0 1899.6L1407.0 1898.9L1408.0 1898.9L1409.0 1897.9L1410.0 1898.6L1411.0 1898.1L1412.0 1898.9L1413.0 1898.5L1414.0 1898.6L1415.0 1898.6L1416.0 1898.3L1417.0 1897.9L1418.0 1898.9L1419.0 1898.0L1420.0 1898.1L1421.0 1898.5L1422.0 1898.3L1423.0 1898.8L1424.0 1899.1L1425.0 1898.8L1426.0 1898.8L1427.0 1898.7L1428.0 1899.1L1429.0 1897.9L1430.0 1898.9L1431.0 1898.3L1432.0 1898.1L1433.0 1898.7L1434.0 1898.5L1435.0 1899.0L1436.0 1899.2L1437.0 1897.7L1438.0 1898.7L1439.0 1899.6L1440.0 1899.1L1441.0 1899.4L1442.0 1898.8L1443.0 1898.1L1444.0 1898.3L1445.0 1899.1L1446.0 1899.2L1447.0 1898.4L1448.0 1898.7L1449.0 1898.9L1450.0 1898.0L1451.0 1898.6L1452.0 1899.5L1453.0 1899.8L1454.0 1898.8L1455.0 1899.6L1456.0 1898.6L1457.0 1898.5L1458.0 1897.8L1459.0 1899.3L1460.0 1898.7L1461.0 1899.9L1462.0 1899.0L1463.0 1898.9L1464.0 1898.1L1465.0 1899.5L1466.0 1898.7L1467.0 1898.8L1468.0 1897.9L1469.0 1899.3L1470.0 1899.3L1471.0 1898.6L1472.0 1899.0L1473.0 1899.1L1474.0 1899.4L1475.0 1899.0L1476.0 1899.7L1477.0 1898.8L1478.0 1898.7L1479.0 1898.7L1480.0 1897.8L1481.0 1898.6L1482.0 1899.4L1483.0 1899.1L1484.0 1898.6L1485.0 1899.1L1486.0 1898.1L1487.0 1898.9L1488.0 1899.2L1489.0 1899.3L1490.0 1898.7L1491.0 1899.4L1492.0 1899.9L1493.0 1898.8L1494.0 1899.4L1495.0 1898.3L1496.0 1898.2L1497.0 1899.3L1498.0 1899.1L1499.0 1899.1L1500.0 1898.8L1501.0 1898.9L1502.0 1899.4L1503.0 1899.8L1504.0 1899.0L1505.0 1898.3L1506.0 1899.7L1507.0 1899.4L1508.0 1899.4L1509.0 1899.2L1510.0 1900.2L1511.0 1899.1L1512.0 1899.4L1513.0 1898.3L1514.0 1898.9L1515.0 1898.8L1516.0 1899.1L1517.0 1899.3L1518.0 1898.8L1519.0 1899.9L1520.0 1898.7L1521.0 1899.0L1522.0 1899.3L1523.0 1898.6L1524.0 1899.4L1525.0 1899.5L1526.0 1899.1L1527.0 1900.1L1528.0 1899.2L1529.0 1899.3L1530.0 1898.8L1531.0 1898.5L1532.0 1898.9L1533.0 1899.1L1534.0 1899.0L1535.0 1899.6L1536.0 1898.2L1537.0 1898.7L1538.0 1898.4L1539.0 1899.9L1540.0 1899.0L1541.0 1899.0L1542.0 1898.8L1543.0 1899.7L1544.0 1899.1L1545.0 1899.4L1546.0 1898.4L1547.0 1899.8L1548.0 1899.5L1549.0 1899.6L1550.0 1899.9L1551.0 1899.2L1552.0 1899.3L1553.0 1899.7L1554.0 1899.5L1555.0 1899.2L1556.0 1899.4L1557.0 1899.1L1558.0 1899.7L1559.0 1899.8L1560.0 1899.4L1561.0 1900.2L1562.0 1898.7L1563.0 1899.3L1564.0 1900.2L1565.0 1899.2L1566.0 1898.7L1567.0 1900.0L1568.0 1899.7L1569.0 1898.9L1570.0 1899.8L1571.0 1899.0L1572.0 1898.8L1573.0 1899.4L1574.0 1899.2L1575.0 1899.0L1576.0 1899.3L1577.0 1899.0L1578.0 1899.5L1579.0 1899.5L1580.0 1899.8L1581.0 1899.3L1582.0 1898.9L1583.0 1898.9L1584.0 1899.4L1585.0 1900.2L1586.0 1899.9L1587.0 1899.2L1588.0 1900.0L1589.0 1899.0L1590.0 1900.0L1591.0 1899.4L1592.0 1899.9L1593.0 1899.8L1594.0 1899.4L1595.0 1899.7L1596.0 1899.1L1597.0 1899.5L1598.0 1900.1L1599.0 1901.4L1600.0 1899.9L1601.0 1899.6L1602.0 1899.2L1603.0 1900.1L1604.0 1898.9L1605.0 1899.3L1606.0 1899.8L1607.0 1899.1L1608.0 1900.3L1609.0 1900.1L1610.0 1899.4L1611.0 1899.4L1612.0 1899.1L1613.0 1899.0L1614.0 1899.9L1615.0 1900.0L1616.0 1899.8L1617.0 1899.8L1618.0 1899.4L1619.0 1899.9L1620.0 1899.0L1621.0 1899.7L1622.0 1900.4L1623.0 1900.3L1624.0 1899.5L1625.0 1899.6L1626.0 1900.4L1627.0 1900.6L1628.0 1899.1L1629.0 1899.6L1630.0 1899.9L1631.0 1900.3L1632.0 1899.4L1633.0 1900.1L1634.0 1899.7L1635.0 1900.9L1636.0 1900.0L1637.0 1899.7L1638.0 1899.7L1639.0 1900.3L1640.0 1900.1L1641.0 1899.3L1642.0 1899.9L1643.0 1899.2L1644.0 1899.5L1645.0 1899.3L1646.0 1899.3L1647.0 1899.6L1648.0 1899.4L1649.0 1900.1L1650.0 1900.2L1651.0 1899.8L1652.0 1899.4L1653.0 1900.3L1654.0 1899.0L1655.0 1899.0L1656.0 1900.2L1657.0 1900.2L1658.0 1900.4L1659.0 1899.8L1660.0 1899.4L1661.0 1899.7L1662.0 1900.2L1663.0 1899.6L1664.0 1899.6L1665.0 1899.3L1666.0 1899.4L1667.0 1900.4L1668.0 1900.2L1669.0 1899.5L1670.0 1899.5L1671.0 1899.7L1672.0 1900.3L1673.0 1899.5L1674.0 1899.9L1675.0 1899.1L1676.0 1899.5L1677.0 1900.2L1678.0 1900.4L1679.0 1899.5L1680.0 1899.7L1681.0 1900.4L1682.0 1899.9L1683.0 1899.8L1684.0 1900.3L1685.0 1900.2L1686.0 1900.6L1687.0 1900.4L1688.0 1899.8L1689.0 1900.0L1690.0 1900.1L1691.0 1899.5L1692.0 1899.7L1693.0 1900.6L1694.0 1899.4L1695.0 1900.6L1696.0 1900.3L1697.0 1900.1L1698.0 1900.4L1699.0 1900.4L1700.0 1900.7L1701.0 1900.0L1702.0 1900.1L1703.0 1900.1L1704.0 1901.0L1705.0 1900.6L1706.0 1899.8L1707.0 1900.1L1708.0 1899.9L1709.0 1900.2L1710.0 1900.3L1711.0 1901.3L1712.0 1899.4L1713.0 1900.7L1714.0 1900.4L1715.0 1899.9L1716.0 1900.2L1717.0 1900.0L1718.0 1900.3L1719.0 1900.7L1720.0 1899.6L1721.0 1900.9L1722.0 1900.1L1723.0 1901.0L1724.0 1900.5L1725.0 1900.9L1726.0 1900.6L1727.0 1900.8L1728.0 1900.3L1729.0 1900.0L1730.0 1900.6L1731.0 1900.7L1732.0 1901.3L1733.0 1899.4L1734.0 1900.3L1735.0 1900.8L1736.0 1899.8L1737.0 1900.3L1738.0 1901.3L1739.0 1901.0L1740.0 1900.0L1741.0 1901.0L1742.0 1900.9L1743.0 1900.8L1744.0 1900.6L1745.0 1900.5L1746.0 1900.0L1747.0 1900.2L1748.0 1900.8L1749.0 1900.5L1750.0 1901.3L1751.0 1900.3L1752.0 1899.4L1753.0 1900.3L1754.0 1900.6L1755.0 1900.7L1756.0 1900.5L1757.0 1900.1L1758.0 1901.2L1759.0 1900.2L1760.0 1900.8L1761.0 1900.4L1762.0 1900.0L1763.0 1901.2L1764.0 1899.4L1765.0 1900.2L1766.0 1900.7L1767.0 1900.4L1768.0 1900.9L1769.0 1900.5L1770.0 1900.4L1771.0 1901.5L1772.0 1900.5L1773.0 1900.5L1774.0 1900.1L1775.0 1900.3L1776.0 1900.9L1777.0 1900.9L1778.0 1900.6L1779.0 1900.3L1780.0 1900.9L1781.0 1899.9L1782.0 1900.5L1783.0 1900.5L1784.0 1900.3L1785.0 1900.7L1786.0 1900.4L1787.0 1900.3L1788.0 1901.5L1789.0 1901.0L1790.0 1901.2L1791.0 1900.7L1792.0 1901.1L1793.0 1901.1L1794.0 1901.3L1795.0 1901.8L1796.0 1900.6L1797.0 1900.8L1798.0 1900.7L1799.0 1899.2L1800.0 1900.1L1801.0 1900.8L1802.0 1901.0L1803.0 1900.5L1804.0 1901.3L1805.0 1901.4" fill="none" stroke="#000000" stroke-width="12" stroke-linejoin="round" stroke-linecap="round"/>
</g>
<line x1="896" y1="191" x2="896" y2="1792" stroke="#000" stroke-width="3.5" stroke-dasharray="6 4"/>
<g stroke="#000" fill="none" stroke-linecap="butt">
<line x1="181" y1="29" x2="1812" y2="29" stroke-width="7.5"/>
<line x1="185" y1="25.3" x2="185" y2="1965" stroke-width="8"/>
<line x1="1808" y1="25.3" x2="1808" y2="1965" stroke-width="8"/>
<line x1="181" y1="1928.3" x2="1812" y2="1928.3" stroke-width="7.3"/>
</g>
<g stroke="#000" fill="none" stroke-linecap="round" stroke-width="8">
<line x1="185.0" y1="1930" x2="185.0" y2="1965"/>
<line x1="455.5" y1="1930" x2="455.5" y2="1965"/>
<line x1="726.0" y1="1930" x2="726.0" y2="1965"/>
<line x1="996.5" y1="1930" x2="996.5" y2="1965"/>
<line x1="1267.0" y1="1930" x2="1267.0" y2="1965"/>
<line x1="1537.5" y1="1930" x2="1537.5" y2="1965"/>
<line x1="1808.0" y1="1930" x2="1808.0" y2="1965"/>
</g>
<g font-family="'Liberation Serif',serif" font-weight="bold" font-size="67.5" fill="#000" text-anchor="middle">
<text x="185.0" y="2044">200</text>
<text x="455.5" y="2044">300</text>
<text x="726.0" y="2044">400</text>
<text x="996.5" y="2044">500</text>
<text x="1267.0" y="2044">600</text>
<text x="1537.5" y="2044">700</text>
<text x="1808.0" y="2044">800</text>
</g>
<text font-family="'Liberation Serif',serif" font-weight="bold" font-size="86.3" fill="#000" x="640.5" y="2210">Raman shift (cm<tspan dy="-44" font-size="89">-1</tspan><tspan dy="44">)</tspan></text>
<text font-family="'Liberation Serif',serif" font-weight="bold" font-size="89" fill="#000" transform="translate(106.9,1349.5) rotate(-90)" x="0" y="0">Intensity (a.u.)</text>
<text font-family="'Liberation Serif',serif" font-weight="bold" font-size="67" fill="#ff0000" x="1637.4" y="308.2">CuO</text>
<text font-family="'Liberation Serif',serif" font-weight="bold" font-size="93" fill="#ff00ff" x="1682.7" y="723.6">c</text>
<text font-family="'Liberation Serif',serif" font-weight="bold" font-size="93" fill="#008000" x="1681.9" y="1152.8">b</text>
<text font-family="'Liberation Serif',serif" font-weight="bold" font-size="93" fill="#0000ff" x="1680.1" y="1452.1">a</text>
<text font-family="'Liberation Serif',serif" font-weight="bold" font-size="67" fill="#000" x="1229.7" y="1087">O</text>
<text font-family="'Liberation Serif',serif" font-weight="bold" font-size="51" fill="#000" x="1282" y="1122">v</text>
<text font-family="'Liberation Serif',serif" font-weight="bold" font-size="67" fill="#000" x="919.9" y="1575.7">F</text>
<text font-family="'Liberation Serif',serif" font-weight="bold" font-size="51" fill="#000" x="959.9" y="1605.4">2g</text>
<text font-family="'Liberation Serif',serif" font-weight="bold" font-size="67" fill="#000" x="1621.8" y="1844.8">CeO</text>
<text font-family="'Liberation Serif',serif" font-weight="bold" font-size="51" fill="#000" x="1751.7" y="1874">2</text>
</svg>
</body></html>
